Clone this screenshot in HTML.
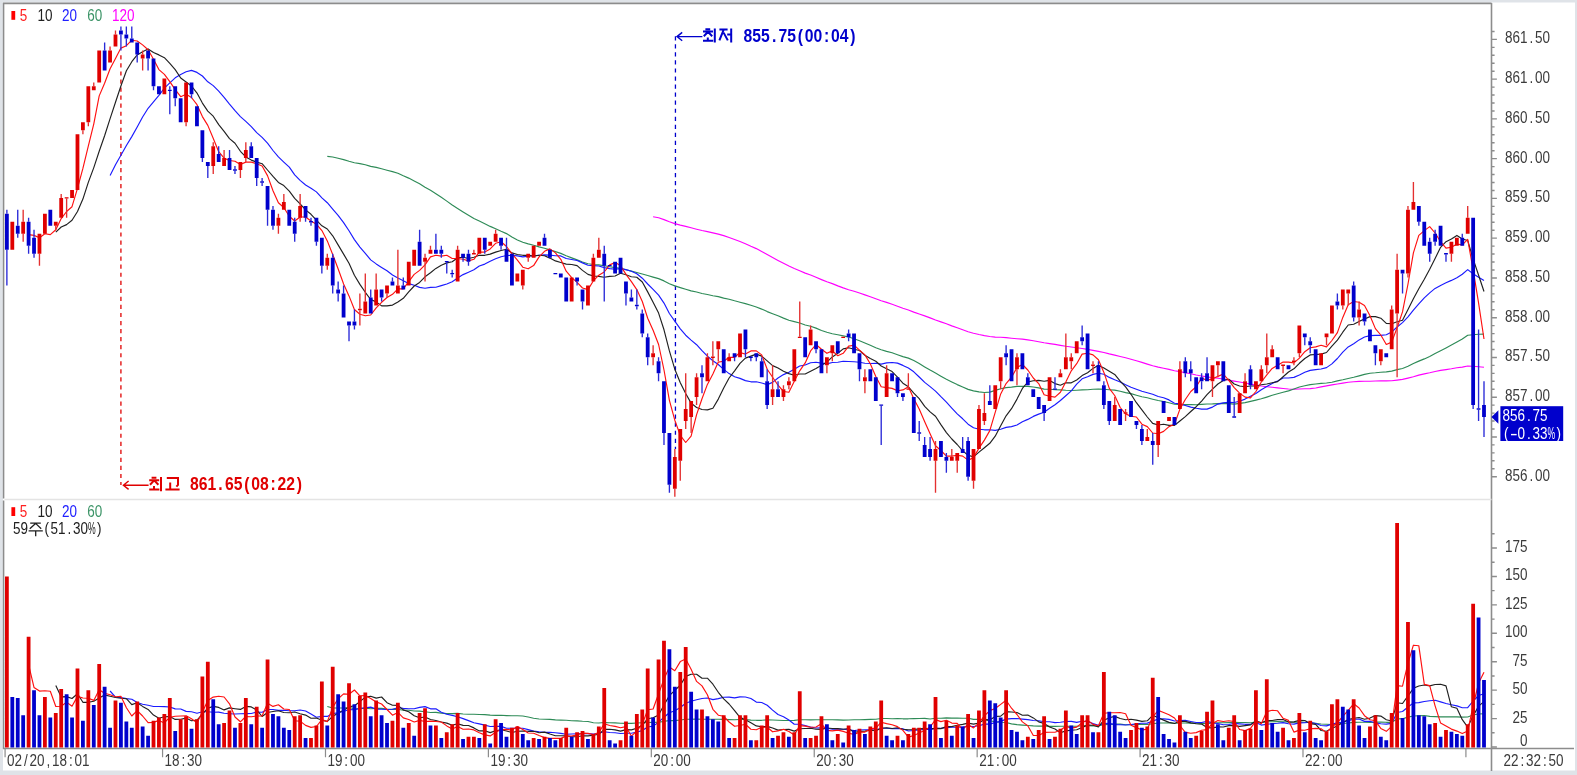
<!DOCTYPE html>
<html><head><meta charset="utf-8"><title>chart</title>
<style>html,body{margin:0;padding:0;background:#dfe3e8;overflow:hidden}svg{display:block;filter:blur(0.5px)}text{font-family:"Liberation Sans",sans-serif}</style></head><body>
<svg width="1577" height="775" viewBox="0 0 1577 775">
<rect x="0" y="0" width="1577" height="775" fill="#dfe3e8"/>
<rect x="3" y="2.5" width="1572" height="768" fill="#ffffff"/>
<g stroke="#8c8c8c" fill="none">
<path d="M3,3.4H1491.5" stroke-width="1.6"/>
<path d="M3.6,3V498.6M3.6,500.4V749" stroke-width="1.5"/>
<path d="M1491.5,3V771" stroke-width="1.6"/>
<path d="M3,748.6H1574" stroke-width="1.5"/>
</g>
<path d="M4.5,499.5H1491.5" stroke="#e4e4e4" stroke-width="1.4" fill="none"/>
<path d="M1491.5,476.70h5.4M1491.5,468.75h3.1M1491.5,460.80h3.1M1491.5,452.85h3.1M1491.5,444.90h3.1M1491.5,436.94h5.4M1491.5,428.99h3.1M1491.5,421.04h3.1M1491.5,413.09h3.1M1491.5,405.14h3.1M1491.5,397.19h5.4M1491.5,389.24h3.1M1491.5,381.29h3.1M1491.5,373.34h3.1M1491.5,365.39h3.1M1491.5,357.44h5.4M1491.5,349.48h3.1M1491.5,341.53h3.1M1491.5,333.58h3.1M1491.5,325.63h3.1M1491.5,317.68h5.4M1491.5,309.73h3.1M1491.5,301.78h3.1M1491.5,293.83h3.1M1491.5,285.88h3.1M1491.5,277.93h5.4M1491.5,269.97h3.1M1491.5,262.02h3.1M1491.5,254.07h3.1M1491.5,246.12h3.1M1491.5,238.17h5.4M1491.5,230.22h3.1M1491.5,222.27h3.1M1491.5,214.32h3.1M1491.5,206.37h3.1M1491.5,198.42h5.4M1491.5,190.46h3.1M1491.5,182.51h3.1M1491.5,174.56h3.1M1491.5,166.61h3.1M1491.5,158.66h5.4M1491.5,150.71h3.1M1491.5,142.76h3.1M1491.5,134.81h3.1M1491.5,126.86h3.1M1491.5,118.91h5.4M1491.5,110.95h3.1M1491.5,103.00h3.1M1491.5,95.05h3.1M1491.5,87.10h3.1M1491.5,79.15h5.4M1491.5,71.20h3.1M1491.5,63.25h3.1M1491.5,55.30h3.1M1491.5,47.35h3.1M1491.5,39.39h5.4M1491.5,31.44h3.1M1491.5,747.00h5.4M1491.5,732.79h3.1M1491.5,718.58h5.4M1491.5,704.36h3.1M1491.5,690.15h5.4M1491.5,675.94h3.1M1491.5,661.73h5.4M1491.5,647.51h3.1M1491.5,633.30h5.4M1491.5,619.09h3.1M1491.5,604.88h5.4M1491.5,590.66h3.1M1491.5,576.45h5.4M1491.5,562.24h3.1M1491.5,548.02h5.4M1491.5,533.81h3.1" stroke="#8c8c8c" stroke-width="1.4" fill="none"/>
<path d="M5.08,749v8.2M162.57,749v8.2M325.49,749v8.2M488.40,749v8.2M651.32,749v8.2M814.24,749v8.2M977.16,749v8.2M1140.08,749v8.2M1302.99,749v8.2M1465.91,749v8.2" stroke="#8c8c8c" stroke-width="1.2" fill="none"/>
<g fill="#3a3a3a" font-size="17.0" text-anchor="middle"><text transform="translate(1508.75,480.70) scale(0.793,1)">8</text><text transform="translate(1516.25,480.70) scale(0.793,1)">5</text><text transform="translate(1523.75,480.70) scale(0.793,1)">6</text><text transform="translate(1531.25,480.70) scale(0.793,1)">.</text><text transform="translate(1538.75,480.70) scale(0.793,1)">0</text><text transform="translate(1546.25,480.70) scale(0.793,1)">0</text></g>
<g fill="#3a3a3a" font-size="17.0" text-anchor="middle"><text transform="translate(1508.75,401.19) scale(0.793,1)">8</text><text transform="translate(1516.25,401.19) scale(0.793,1)">5</text><text transform="translate(1523.75,401.19) scale(0.793,1)">7</text><text transform="translate(1531.25,401.19) scale(0.793,1)">.</text><text transform="translate(1538.75,401.19) scale(0.793,1)">0</text><text transform="translate(1546.25,401.19) scale(0.793,1)">0</text></g>
<g fill="#3a3a3a" font-size="17.0" text-anchor="middle"><text transform="translate(1508.75,361.44) scale(0.793,1)">8</text><text transform="translate(1516.25,361.44) scale(0.793,1)">5</text><text transform="translate(1523.75,361.44) scale(0.793,1)">7</text><text transform="translate(1531.25,361.44) scale(0.793,1)">.</text><text transform="translate(1538.75,361.44) scale(0.793,1)">5</text><text transform="translate(1546.25,361.44) scale(0.793,1)">0</text></g>
<g fill="#3a3a3a" font-size="17.0" text-anchor="middle"><text transform="translate(1508.75,321.68) scale(0.793,1)">8</text><text transform="translate(1516.25,321.68) scale(0.793,1)">5</text><text transform="translate(1523.75,321.68) scale(0.793,1)">8</text><text transform="translate(1531.25,321.68) scale(0.793,1)">.</text><text transform="translate(1538.75,321.68) scale(0.793,1)">0</text><text transform="translate(1546.25,321.68) scale(0.793,1)">0</text></g>
<g fill="#3a3a3a" font-size="17.0" text-anchor="middle"><text transform="translate(1508.75,281.93) scale(0.793,1)">8</text><text transform="translate(1516.25,281.93) scale(0.793,1)">5</text><text transform="translate(1523.75,281.93) scale(0.793,1)">8</text><text transform="translate(1531.25,281.93) scale(0.793,1)">.</text><text transform="translate(1538.75,281.93) scale(0.793,1)">5</text><text transform="translate(1546.25,281.93) scale(0.793,1)">0</text></g>
<g fill="#3a3a3a" font-size="17.0" text-anchor="middle"><text transform="translate(1508.75,242.17) scale(0.793,1)">8</text><text transform="translate(1516.25,242.17) scale(0.793,1)">5</text><text transform="translate(1523.75,242.17) scale(0.793,1)">9</text><text transform="translate(1531.25,242.17) scale(0.793,1)">.</text><text transform="translate(1538.75,242.17) scale(0.793,1)">0</text><text transform="translate(1546.25,242.17) scale(0.793,1)">0</text></g>
<g fill="#3a3a3a" font-size="17.0" text-anchor="middle"><text transform="translate(1508.75,202.42) scale(0.793,1)">8</text><text transform="translate(1516.25,202.42) scale(0.793,1)">5</text><text transform="translate(1523.75,202.42) scale(0.793,1)">9</text><text transform="translate(1531.25,202.42) scale(0.793,1)">.</text><text transform="translate(1538.75,202.42) scale(0.793,1)">5</text><text transform="translate(1546.25,202.42) scale(0.793,1)">0</text></g>
<g fill="#3a3a3a" font-size="17.0" text-anchor="middle"><text transform="translate(1508.75,162.66) scale(0.793,1)">8</text><text transform="translate(1516.25,162.66) scale(0.793,1)">6</text><text transform="translate(1523.75,162.66) scale(0.793,1)">0</text><text transform="translate(1531.25,162.66) scale(0.793,1)">.</text><text transform="translate(1538.75,162.66) scale(0.793,1)">0</text><text transform="translate(1546.25,162.66) scale(0.793,1)">0</text></g>
<g fill="#3a3a3a" font-size="17.0" text-anchor="middle"><text transform="translate(1508.75,122.91) scale(0.793,1)">8</text><text transform="translate(1516.25,122.91) scale(0.793,1)">6</text><text transform="translate(1523.75,122.91) scale(0.793,1)">0</text><text transform="translate(1531.25,122.91) scale(0.793,1)">.</text><text transform="translate(1538.75,122.91) scale(0.793,1)">5</text><text transform="translate(1546.25,122.91) scale(0.793,1)">0</text></g>
<g fill="#3a3a3a" font-size="17.0" text-anchor="middle"><text transform="translate(1508.75,83.15) scale(0.793,1)">8</text><text transform="translate(1516.25,83.15) scale(0.793,1)">6</text><text transform="translate(1523.75,83.15) scale(0.793,1)">1</text><text transform="translate(1531.25,83.15) scale(0.793,1)">.</text><text transform="translate(1538.75,83.15) scale(0.793,1)">0</text><text transform="translate(1546.25,83.15) scale(0.793,1)">0</text></g>
<g fill="#3a3a3a" font-size="17.0" text-anchor="middle"><text transform="translate(1508.75,43.39) scale(0.793,1)">8</text><text transform="translate(1516.25,43.39) scale(0.793,1)">6</text><text transform="translate(1523.75,43.39) scale(0.793,1)">1</text><text transform="translate(1531.25,43.39) scale(0.793,1)">.</text><text transform="translate(1538.75,43.39) scale(0.793,1)">5</text><text transform="translate(1546.25,43.39) scale(0.793,1)">0</text></g>
<g fill="#3a3a3a" font-size="17.0" text-anchor="middle"><text transform="translate(1523.75,746.20) scale(0.793,1)">0</text></g>
<g fill="#3a3a3a" font-size="17.0" text-anchor="middle"><text transform="translate(1516.25,722.58) scale(0.793,1)">2</text><text transform="translate(1523.75,722.58) scale(0.793,1)">5</text></g>
<g fill="#3a3a3a" font-size="17.0" text-anchor="middle"><text transform="translate(1516.25,694.15) scale(0.793,1)">5</text><text transform="translate(1523.75,694.15) scale(0.793,1)">0</text></g>
<g fill="#3a3a3a" font-size="17.0" text-anchor="middle"><text transform="translate(1516.25,665.73) scale(0.793,1)">7</text><text transform="translate(1523.75,665.73) scale(0.793,1)">5</text></g>
<g fill="#3a3a3a" font-size="17.0" text-anchor="middle"><text transform="translate(1508.75,637.30) scale(0.793,1)">1</text><text transform="translate(1516.25,637.30) scale(0.793,1)">0</text><text transform="translate(1523.75,637.30) scale(0.793,1)">0</text></g>
<g fill="#3a3a3a" font-size="17.0" text-anchor="middle"><text transform="translate(1508.75,608.88) scale(0.793,1)">1</text><text transform="translate(1516.25,608.88) scale(0.793,1)">2</text><text transform="translate(1523.75,608.88) scale(0.793,1)">5</text></g>
<g fill="#3a3a3a" font-size="17.0" text-anchor="middle"><text transform="translate(1508.75,580.45) scale(0.793,1)">1</text><text transform="translate(1516.25,580.45) scale(0.793,1)">5</text><text transform="translate(1523.75,580.45) scale(0.793,1)">0</text></g>
<g fill="#3a3a3a" font-size="17.0" text-anchor="middle"><text transform="translate(1508.75,552.02) scale(0.793,1)">1</text><text transform="translate(1516.25,552.02) scale(0.793,1)">7</text><text transform="translate(1523.75,552.02) scale(0.793,1)">5</text></g>
<g fill="#3a3a3a" font-size="17.0" text-anchor="middle"><text transform="translate(10.83,765.60) scale(0.793,1)">0</text><text transform="translate(18.33,765.60) scale(0.793,1)">2</text><text transform="translate(25.83,765.60) scale(0.793,1)">/</text><text transform="translate(33.33,765.60) scale(0.793,1)">2</text><text transform="translate(40.83,765.60) scale(0.793,1)">0</text><text transform="translate(48.33,765.60) scale(0.793,1)">,</text><text transform="translate(55.83,765.60) scale(0.793,1)">1</text><text transform="translate(63.33,765.60) scale(0.793,1)">8</text><text transform="translate(70.83,765.60) scale(0.793,1)">:</text><text transform="translate(78.33,765.60) scale(0.793,1)">0</text><text transform="translate(85.83,765.60) scale(0.793,1)">1</text></g>
<g fill="#3a3a3a" font-size="17.0" text-anchor="middle"><text transform="translate(168.32,765.60) scale(0.793,1)">1</text><text transform="translate(175.82,765.60) scale(0.793,1)">8</text><text transform="translate(183.32,765.60) scale(0.793,1)">:</text><text transform="translate(190.82,765.60) scale(0.793,1)">3</text><text transform="translate(198.32,765.60) scale(0.793,1)">0</text></g>
<g fill="#3a3a3a" font-size="17.0" text-anchor="middle"><text transform="translate(331.24,765.60) scale(0.793,1)">1</text><text transform="translate(338.74,765.60) scale(0.793,1)">9</text><text transform="translate(346.24,765.60) scale(0.793,1)">:</text><text transform="translate(353.74,765.60) scale(0.793,1)">0</text><text transform="translate(361.24,765.60) scale(0.793,1)">0</text></g>
<g fill="#3a3a3a" font-size="17.0" text-anchor="middle"><text transform="translate(494.15,765.60) scale(0.793,1)">1</text><text transform="translate(501.65,765.60) scale(0.793,1)">9</text><text transform="translate(509.15,765.60) scale(0.793,1)">:</text><text transform="translate(516.65,765.60) scale(0.793,1)">3</text><text transform="translate(524.15,765.60) scale(0.793,1)">0</text></g>
<g fill="#3a3a3a" font-size="17.0" text-anchor="middle"><text transform="translate(657.07,765.60) scale(0.793,1)">2</text><text transform="translate(664.57,765.60) scale(0.793,1)">0</text><text transform="translate(672.07,765.60) scale(0.793,1)">:</text><text transform="translate(679.57,765.60) scale(0.793,1)">0</text><text transform="translate(687.07,765.60) scale(0.793,1)">0</text></g>
<g fill="#3a3a3a" font-size="17.0" text-anchor="middle"><text transform="translate(819.99,765.60) scale(0.793,1)">2</text><text transform="translate(827.49,765.60) scale(0.793,1)">0</text><text transform="translate(834.99,765.60) scale(0.793,1)">:</text><text transform="translate(842.49,765.60) scale(0.793,1)">3</text><text transform="translate(849.99,765.60) scale(0.793,1)">0</text></g>
<g fill="#3a3a3a" font-size="17.0" text-anchor="middle"><text transform="translate(982.91,765.60) scale(0.793,1)">2</text><text transform="translate(990.41,765.60) scale(0.793,1)">1</text><text transform="translate(997.91,765.60) scale(0.793,1)">:</text><text transform="translate(1005.41,765.60) scale(0.793,1)">0</text><text transform="translate(1012.91,765.60) scale(0.793,1)">0</text></g>
<g fill="#3a3a3a" font-size="17.0" text-anchor="middle"><text transform="translate(1145.83,765.60) scale(0.793,1)">2</text><text transform="translate(1153.33,765.60) scale(0.793,1)">1</text><text transform="translate(1160.83,765.60) scale(0.793,1)">:</text><text transform="translate(1168.33,765.60) scale(0.793,1)">3</text><text transform="translate(1175.83,765.60) scale(0.793,1)">0</text></g>
<g fill="#3a3a3a" font-size="17.0" text-anchor="middle"><text transform="translate(1308.74,765.60) scale(0.793,1)">2</text><text transform="translate(1316.24,765.60) scale(0.793,1)">2</text><text transform="translate(1323.74,765.60) scale(0.793,1)">:</text><text transform="translate(1331.24,765.60) scale(0.793,1)">0</text><text transform="translate(1338.74,765.60) scale(0.793,1)">0</text></g>
<g fill="#3a3a3a" font-size="17.0" text-anchor="middle"><text transform="translate(1507.25,765.80) scale(0.793,1)">2</text><text transform="translate(1514.75,765.80) scale(0.793,1)">2</text><text transform="translate(1522.25,765.80) scale(0.793,1)">:</text><text transform="translate(1529.75,765.80) scale(0.793,1)">3</text><text transform="translate(1537.25,765.80) scale(0.793,1)">2</text><text transform="translate(1544.75,765.80) scale(0.793,1)">:</text><text transform="translate(1552.25,765.80) scale(0.793,1)">5</text><text transform="translate(1559.75,765.80) scale(0.793,1)">0</text></g>
<path d="M120.92,55.3V485" stroke="#e00000" stroke-width="1.3" stroke-dasharray="4.2 3.85" fill="none"/>
<path d="M675.44,36.2V448.91" stroke="#0000cc" stroke-width="1.3" stroke-dasharray="4.2 3.85" fill="none"/>
<polyline points="653.1,216.8 658.6,217.8 664.0,219.6 669.4,221.7 674.8,223.6 680.3,225.1 685.7,226.4 691.1,227.8 696.6,229.2 702.0,230.5 707.4,231.6 712.9,232.9 718.3,234.1 723.7,235.6 729.1,237.5 734.6,239.5 740.0,241.5 745.4,243.7 750.9,246.3 756.3,248.6 761.7,251.4 767.2,254.5 772.6,257.4 778.0,260.4 783.5,263.3 788.9,266.0 794.3,268.5 799.7,270.8 805.2,273.1 810.6,275.0 816.0,277.3 821.5,279.6 826.9,281.8 832.3,283.6 837.8,285.9 843.2,287.9 848.6,289.7 854.1,291.3 859.5,293.0 864.9,294.9 870.3,296.8 875.8,298.8 881.2,300.7 886.6,302.4 892.1,304.3 897.5,306.3 902.9,308.3 908.4,310.0 913.8,312.1 919.2,314.0 924.7,315.9 930.1,317.9 935.5,320.0 940.9,321.9 946.4,323.8 951.8,325.9 957.2,327.8 962.7,329.8 968.1,331.7 973.5,333.2 979.0,334.5 984.4,335.6 989.8,336.5 995.2,337.1 1000.7,337.3 1006.1,337.6 1011.5,338.2 1017.0,338.7 1022.4,339.1 1027.8,339.9 1033.3,340.7 1038.7,341.8 1044.1,342.8 1049.6,343.6 1055.0,344.4 1060.4,345.4 1065.8,346.3 1071.3,347.0 1076.7,347.7 1082.1,348.5 1087.6,349.4 1093.0,350.4 1098.4,351.4 1103.9,352.5 1109.3,353.9 1114.7,355.1 1120.2,356.5 1125.6,357.8 1131.0,359.3 1136.4,360.8 1141.9,362.4 1147.3,364.1 1152.7,365.8 1158.2,367.1 1163.6,368.2 1169.0,369.4 1174.5,370.7 1179.9,371.6 1185.3,372.7 1190.8,373.8 1196.2,375.0 1201.6,376.0 1207.0,376.9 1212.5,377.7 1217.9,378.2 1223.3,379.0 1228.8,380.1 1234.2,381.1 1239.6,382.0 1245.1,383.0 1250.5,384.1 1255.9,385.1 1261.3,386.0 1266.8,386.7 1272.2,387.3 1277.6,387.9 1283.1,388.5 1288.5,389.0 1293.9,389.2 1299.4,389.0 1304.8,388.8 1310.2,388.6 1315.7,388.0 1321.1,386.9 1326.5,385.9 1331.9,384.9 1337.4,384.0 1342.8,383.1 1348.2,382.3 1353.7,381.8 1359.1,381.4 1364.5,381.2 1370.0,381.2 1375.4,381.0 1380.8,380.9 1386.3,380.9 1391.7,380.7 1397.1,380.1 1402.5,379.4 1408.0,378.1 1413.4,376.7 1418.8,375.1 1424.3,373.9 1429.7,372.8 1435.1,371.5 1440.6,370.4 1446.0,369.6 1451.4,368.8 1456.9,367.8 1462.3,367.1 1467.7,366.0 1473.1,366.3 1478.6,366.7 1484.0,367.3" fill="none" stroke="#ff00ff" stroke-width="1.15" stroke-linejoin="round"/>
<polyline points="327.3,156.4 332.7,157.0 338.1,158.2 343.6,159.6 349.0,161.3 354.4,162.7 359.9,163.6 365.3,164.7 370.7,166.4 376.2,167.4 381.6,168.7 387.0,170.2 392.5,171.6 397.9,173.2 403.3,175.8 408.7,178.1 414.2,180.9 419.6,183.8 425.0,187.3 430.5,190.3 435.9,193.7 441.3,197.3 446.8,201.1 452.2,205.0 457.6,208.5 463.1,211.9 468.5,215.3 473.9,218.6 479.3,221.1 484.8,223.7 490.2,226.4 495.6,228.8 501.1,231.3 506.5,233.6 511.9,237.0 517.4,240.0 522.8,242.3 528.2,243.9 533.6,245.3 539.1,246.9 544.5,248.3 549.9,249.9 555.4,251.6 560.8,253.4 566.2,255.8 571.7,257.9 577.1,259.9 582.5,262.0 588.0,263.7 593.4,264.5 598.8,264.9 604.2,265.7 609.7,266.8 615.1,267.6 620.5,268.2 626.0,269.7 631.4,271.1 636.8,272.5 642.3,274.0 647.7,275.5 653.1,277.1 658.6,278.6 664.0,280.9 669.4,283.7 674.8,285.9 680.3,287.6 685.7,289.3 691.1,290.9 696.6,292.0 702.0,293.5 707.4,294.5 712.9,295.7 718.3,296.6 723.7,298.1 729.1,299.2 734.6,300.8 740.0,302.2 745.4,303.6 750.9,305.2 756.3,307.0 761.7,309.1 767.2,311.6 772.6,313.7 778.0,315.8 783.5,318.1 788.9,320.2 794.3,321.6 799.7,323.0 805.2,325.0 810.6,326.3 816.0,328.1 821.5,330.5 826.9,332.3 832.3,333.7 837.8,334.8 843.2,335.9 848.6,337.0 854.1,338.7 859.5,340.7 864.9,343.0 870.3,345.3 875.8,347.7 881.2,349.8 886.6,351.4 892.1,352.8 897.5,354.7 902.9,356.6 908.4,358.1 913.8,360.5 919.2,363.5 924.7,366.9 930.1,370.1 935.5,373.1 940.9,376.2 946.4,379.3 951.8,382.0 957.2,384.6 962.7,387.0 968.1,389.4 973.5,390.9 979.0,391.9 984.4,392.5 989.8,392.1 995.2,390.4 1000.7,388.8 1006.1,387.6 1011.5,387.1 1017.0,386.4 1022.4,386.2 1027.8,386.4 1033.3,387.0 1038.7,387.9 1044.1,389.1 1049.6,389.2 1055.0,389.7 1060.4,389.9 1065.8,390.3 1071.3,390.5 1076.7,390.2 1082.1,389.9 1087.6,389.8 1093.0,389.2 1098.4,389.0 1103.9,389.2 1109.3,389.7 1114.7,390.1 1120.2,391.3 1125.6,392.6 1131.0,393.6 1136.4,395.2 1141.9,396.7 1147.3,397.8 1152.7,399.2 1158.2,400.5 1163.6,401.5 1169.0,402.8 1174.5,404.3 1179.9,404.6 1185.3,404.6 1190.8,404.6 1196.2,404.8 1201.6,404.4 1207.0,404.0 1212.5,403.9 1217.9,403.6 1223.3,403.4 1228.8,403.6 1234.2,404.1 1239.6,403.4 1245.1,402.6 1250.5,401.4 1255.9,400.1 1261.3,398.8 1266.8,397.1 1272.2,395.3 1277.6,393.8 1283.1,392.3 1288.5,390.9 1293.9,389.0 1299.4,387.0 1304.8,385.8 1310.2,384.6 1315.7,384.0 1321.1,383.4 1326.5,383.0 1331.9,382.2 1337.4,380.9 1342.8,379.8 1348.2,378.5 1353.7,377.3 1359.1,375.9 1364.5,374.4 1370.0,373.2 1375.4,372.8 1380.8,372.2 1386.3,371.9 1391.7,371.1 1397.1,369.6 1402.5,368.5 1408.0,366.3 1413.4,363.5 1418.8,361.1 1424.3,358.9 1429.7,356.4 1435.1,353.4 1440.6,350.7 1446.0,347.9 1451.4,345.0 1456.9,342.0 1462.3,339.0 1467.7,335.3 1473.1,334.8 1478.6,334.2 1484.0,334.1" fill="none" stroke="#2e8b57" stroke-width="1.15" stroke-linejoin="round"/>
<polyline points="110.1,175.4 115.5,164.7 120.9,155.3 126.4,145.5 131.8,136.6 137.2,127.0 142.6,117.0 148.1,108.3 153.5,101.9 158.9,95.3 164.4,88.2 169.8,82.8 175.2,77.8 180.7,74.4 186.1,71.8 191.5,70.4 197.0,72.4 202.4,76.0 207.8,81.8 213.2,85.6 218.7,91.1 224.1,97.3 229.5,104.1 235.0,110.7 240.4,116.6 245.8,121.4 251.3,126.6 256.7,132.6 262.1,137.4 267.5,143.1 273.0,150.5 278.4,156.9 283.8,162.1 289.3,167.2 294.7,174.8 300.1,180.4 305.6,185.0 311.0,188.2 316.4,191.9 321.9,197.9 327.3,202.7 332.7,209.1 338.1,215.3 343.6,222.6 349.0,230.8 354.4,239.6 359.9,247.1 365.3,253.3 370.7,259.9 376.2,263.9 381.6,267.4 387.0,270.8 392.5,275.0 397.9,278.0 403.3,280.8 408.7,283.6 414.2,285.2 419.6,287.4 425.0,288.2 430.5,287.4 435.9,287.2 441.3,285.6 446.8,284.0 452.2,281.8 457.6,278.0 463.1,274.6 468.5,272.2 473.9,269.8 479.3,266.0 484.8,264.1 490.2,261.3 495.6,258.7 501.1,256.7 506.5,255.5 511.9,255.3 517.4,255.9 522.8,256.9 528.2,256.3 533.6,255.7 539.1,255.3 544.5,254.9 549.9,255.1 555.4,255.7 560.8,255.9 566.2,258.5 571.7,259.5 577.1,260.5 582.5,262.9 588.0,265.2 593.4,265.6 598.8,266.0 604.2,267.6 609.7,268.6 615.1,269.2 620.5,268.6 626.0,269.6 631.4,271.2 636.8,273.8 642.3,278.2 647.7,284.0 653.1,289.4 658.6,295.1 664.0,303.1 669.4,313.5 674.8,321.2 680.3,328.8 685.7,335.2 691.1,340.1 696.6,344.7 702.0,350.7 707.4,356.1 712.9,360.7 718.3,364.5 723.7,369.4 729.1,373.6 734.6,376.8 740.0,378.4 745.4,380.6 750.9,381.8 756.3,381.8 761.7,383.0 767.2,384.6 772.6,382.4 778.0,378.0 783.5,374.6 788.9,372.2 794.3,369.2 799.7,366.0 805.2,365.0 810.6,362.7 816.0,362.3 821.5,363.1 826.9,363.9 832.3,362.5 837.8,362.3 843.2,361.3 848.6,361.5 854.1,361.7 859.5,362.3 864.9,363.3 870.3,363.5 875.8,363.3 881.2,364.1 886.6,362.9 892.1,362.5 897.5,363.1 902.9,365.4 908.4,368.0 913.8,371.8 919.2,377.0 924.7,382.4 930.1,386.6 935.5,391.1 940.9,396.7 946.4,402.1 951.8,408.1 957.2,413.9 962.7,418.8 968.1,424.2 973.5,427.8 979.0,429.2 984.4,429.8 989.8,429.8 995.2,430.4 1000.7,429.2 1006.1,427.4 1011.5,426.6 1017.0,425.0 1022.4,421.8 1027.8,419.4 1033.3,416.4 1038.7,414.1 1044.1,412.3 1049.6,408.3 1055.0,404.7 1060.4,400.5 1065.8,395.7 1071.3,390.9 1076.7,384.2 1082.1,378.8 1087.6,376.8 1093.0,374.4 1098.4,373.2 1103.9,374.2 1109.3,377.4 1114.7,379.8 1120.2,382.0 1125.6,384.8 1131.0,387.2 1136.4,389.2 1141.9,391.3 1147.3,392.7 1152.7,394.3 1158.2,396.5 1163.6,397.7 1169.0,399.9 1174.5,403.3 1179.9,403.9 1185.3,405.5 1190.8,407.1 1196.2,408.3 1201.6,409.1 1207.0,409.1 1212.5,407.1 1217.9,404.1 1223.3,402.9 1228.8,402.3 1234.2,402.5 1239.6,401.3 1245.1,399.1 1250.5,396.3 1255.9,393.5 1261.3,389.7 1266.8,386.6 1272.2,383.4 1277.6,381.0 1283.1,378.0 1288.5,378.0 1293.9,377.4 1299.4,375.0 1304.8,372.2 1310.2,370.4 1315.7,369.6 1321.1,369.0 1326.5,367.6 1331.9,363.9 1337.4,358.5 1342.8,352.1 1348.2,346.9 1353.7,343.7 1359.1,339.9 1364.5,337.0 1370.0,335.6 1375.4,335.4 1380.8,335.4 1386.3,334.8 1391.7,332.0 1397.1,327.0 1402.5,322.6 1408.0,316.8 1413.4,310.1 1418.8,303.9 1424.3,297.9 1429.7,292.9 1435.1,288.4 1440.6,285.4 1446.0,282.8 1451.4,280.4 1456.9,277.8 1462.3,274.2 1467.7,269.6 1473.1,273.8 1478.6,277.2 1484.0,280.4" fill="none" stroke="#1a1aff" stroke-width="1.15" stroke-linejoin="round"/>
<polyline points="55.8,232.2 61.2,227.0 66.6,224.6 72.0,220.2 77.5,211.5 82.9,199.1 88.3,182.4 93.8,167.6 99.2,151.3 104.6,135.8 110.1,118.6 115.5,102.3 120.9,86.0 126.4,70.8 131.8,61.7 137.2,54.9 142.6,51.7 148.1,48.9 153.5,52.5 158.9,54.9 164.4,57.7 169.8,63.3 175.2,69.6 180.7,78.0 186.1,82.0 191.5,86.0 197.0,93.1 202.4,103.1 207.8,111.1 213.2,116.2 218.7,124.6 224.1,131.4 229.5,138.6 235.0,143.3 240.4,151.3 245.8,156.9 251.3,160.1 256.7,162.1 262.1,163.7 267.5,170.0 273.0,176.4 278.4,182.4 283.8,185.6 289.3,191.1 294.7,198.3 300.1,203.9 305.6,209.9 311.0,214.3 316.4,220.2 321.9,225.8 327.3,229.0 332.7,235.8 338.1,244.9 343.6,254.1 349.0,263.3 354.4,275.2 359.9,284.4 365.3,292.3 370.7,299.5 376.2,301.9 381.6,305.9 387.0,305.9 392.5,305.1 397.9,301.9 403.3,298.3 408.7,291.9 414.2,286.0 419.6,282.4 425.0,276.8 430.5,272.8 435.9,268.4 441.3,265.2 446.8,262.9 452.2,261.7 457.6,257.7 463.1,257.3 468.5,258.5 473.9,257.3 479.3,255.3 484.8,255.3 490.2,254.1 495.6,252.1 501.1,250.5 506.5,249.3 511.9,252.9 517.4,254.5 522.8,255.3 528.2,255.3 533.6,256.1 539.1,255.3 544.5,255.7 549.9,258.1 555.4,260.9 560.8,262.5 566.2,264.1 571.7,264.5 577.1,265.6 582.5,270.4 588.0,274.4 593.4,276.0 598.8,276.4 604.2,277.2 609.7,276.4 615.1,276.0 620.5,273.2 626.0,274.8 631.4,276.8 636.8,277.2 642.3,282.0 647.7,291.9 653.1,302.3 658.6,313.1 664.0,329.8 669.4,350.9 674.8,369.2 680.3,382.8 685.7,393.5 691.1,403.1 696.6,407.5 702.0,409.5 707.4,409.9 712.9,408.3 718.3,399.1 723.7,388.0 729.1,378.0 734.6,370.8 740.0,363.3 745.4,358.1 750.9,356.1 756.3,354.1 761.7,356.1 767.2,360.9 772.6,365.6 778.0,368.0 783.5,371.2 788.9,373.6 794.3,375.2 799.7,374.0 805.2,374.0 810.6,371.2 816.0,368.4 821.5,365.2 826.9,362.1 832.3,356.9 837.8,353.3 843.2,348.9 848.6,347.7 854.1,349.3 859.5,350.5 864.9,355.3 870.3,358.5 875.8,361.3 881.2,366.0 886.6,368.8 892.1,371.6 897.5,377.2 902.9,383.2 908.4,386.8 913.8,393.1 919.2,398.7 924.7,406.3 930.1,411.9 935.5,416.2 940.9,424.6 946.4,432.6 951.8,439.0 957.2,444.5 962.7,450.9 968.1,455.3 973.5,456.9 979.0,452.1 984.4,447.7 989.8,443.3 995.2,436.2 1000.7,425.8 1006.1,415.8 1011.5,408.7 1017.0,399.1 1022.4,388.4 1027.8,382.0 1033.3,380.8 1038.7,380.4 1044.1,381.2 1049.6,380.4 1055.0,383.6 1060.4,385.2 1065.8,382.8 1071.3,382.8 1076.7,380.0 1082.1,375.6 1087.6,372.8 1093.0,368.4 1098.4,365.2 1103.9,368.0 1109.3,371.2 1114.7,374.4 1120.2,381.2 1125.6,386.8 1131.0,394.3 1136.4,402.7 1141.9,409.9 1147.3,417.0 1152.7,423.4 1158.2,425.0 1163.6,424.2 1169.0,425.4 1174.5,425.4 1179.9,421.0 1185.3,416.6 1190.8,411.5 1196.2,406.7 1201.6,401.1 1207.0,394.7 1212.5,389.2 1217.9,384.0 1223.3,380.4 1228.8,379.2 1234.2,384.0 1239.6,386.0 1245.1,386.8 1250.5,386.0 1255.9,386.0 1261.3,384.8 1266.8,384.0 1272.2,382.8 1277.6,381.6 1283.1,376.8 1288.5,372.0 1293.9,368.8 1299.4,363.3 1304.8,358.5 1310.2,354.9 1315.7,354.5 1321.1,354.1 1326.5,352.5 1331.9,346.1 1337.4,340.1 1342.8,332.2 1348.2,325.0 1353.7,324.2 1359.1,321.4 1364.5,319.0 1370.0,316.6 1375.4,316.6 1380.8,318.2 1386.3,323.4 1391.7,323.8 1397.1,321.8 1402.5,320.2 1408.0,309.5 1413.4,298.7 1418.8,288.8 1424.3,279.2 1429.7,269.2 1435.1,258.5 1440.6,247.3 1446.0,241.7 1451.4,239.0 1456.9,235.4 1462.3,239.0 1467.7,240.5 1473.1,258.9 1478.6,275.2 1484.0,291.5" fill="none" stroke="#202020" stroke-width="1.15" stroke-linejoin="round"/>
<polyline points="28.6,234.6 34.0,235.4 39.5,237.8 44.9,233.8 50.3,234.6 55.8,229.8 61.2,218.6 66.6,211.5 72.0,206.7 77.5,188.4 82.9,168.4 88.3,146.1 93.8,123.8 99.2,95.9 104.6,83.2 110.1,68.8 115.5,58.5 120.9,48.1 126.4,45.7 131.8,40.2 137.2,41.0 142.6,44.9 148.1,49.7 153.5,59.3 158.9,69.6 164.4,74.4 169.8,81.6 175.2,89.6 180.7,96.7 186.1,94.3 191.5,97.5 197.0,104.7 202.4,116.6 207.8,125.4 213.2,138.2 218.7,151.7 224.1,158.1 229.5,160.5 235.0,161.3 240.4,164.5 245.8,162.1 251.3,162.1 256.7,163.7 262.1,166.0 267.5,175.6 273.0,190.7 278.4,202.7 283.8,207.5 289.3,216.2 294.7,221.0 300.1,217.0 305.6,217.0 311.0,221.0 316.4,224.2 321.9,230.6 327.3,240.9 332.7,254.5 338.1,268.8 343.6,284.0 349.0,295.9 354.4,309.5 359.9,314.3 365.3,315.8 370.7,315.0 376.2,307.9 381.6,302.3 387.0,297.5 392.5,294.3 397.9,288.8 403.3,288.8 408.7,281.6 414.2,274.4 419.6,270.4 425.0,264.9 430.5,256.9 435.9,255.3 441.3,256.1 446.8,255.3 452.2,258.5 457.6,258.5 463.1,259.3 468.5,260.9 473.9,259.3 479.3,252.1 484.8,252.1 490.2,248.9 495.6,243.3 501.1,241.7 506.5,246.5 511.9,253.7 517.4,260.1 522.8,267.2 528.2,268.8 533.6,265.6 539.1,256.9 544.5,251.3 549.9,248.9 555.4,252.9 560.8,259.3 566.2,271.2 571.7,277.6 577.1,282.4 582.5,288.0 588.0,289.6 593.4,280.8 598.8,275.2 604.2,272.0 609.7,264.9 615.1,262.5 620.5,265.6 626.0,274.4 631.4,281.6 636.8,289.6 642.3,301.5 647.7,318.2 653.1,330.2 658.6,344.5 664.0,370.0 669.4,400.3 674.8,420.2 680.3,435.4 685.7,442.5 691.1,436.2 696.6,414.6 702.0,398.7 707.4,384.4 712.9,374.0 718.3,362.1 723.7,361.3 729.1,357.3 734.6,357.3 740.0,352.5 745.4,354.1 750.9,350.9 756.3,350.9 761.7,354.9 767.2,369.2 772.6,377.2 778.0,385.2 783.5,391.5 788.9,392.3 794.3,381.2 799.7,370.8 805.2,362.9 810.6,350.9 816.0,344.5 821.5,349.3 826.9,353.3 832.3,350.9 837.8,355.7 843.2,353.3 848.6,346.1 854.1,345.3 859.5,350.1 864.9,354.9 870.3,363.7 875.8,376.4 881.2,386.8 886.6,387.6 892.1,388.4 897.5,390.7 902.9,389.9 908.4,386.8 913.8,398.7 919.2,409.1 924.7,421.8 930.1,433.8 935.5,445.7 940.9,450.5 946.4,456.1 951.8,456.1 957.2,455.3 962.7,456.1 968.1,460.1 973.5,457.7 979.0,448.1 984.4,440.1 989.8,430.6 995.2,412.3 1000.7,393.9 1006.1,383.6 1011.5,377.2 1017.0,367.6 1022.4,364.5 1027.8,370.0 1033.3,378.0 1038.7,383.6 1044.1,394.7 1049.6,396.3 1055.0,397.1 1060.4,392.3 1065.8,382.0 1071.3,370.8 1076.7,363.7 1082.1,354.1 1087.6,353.3 1093.0,354.9 1098.4,359.7 1103.9,372.4 1109.3,388.4 1114.7,395.5 1120.2,407.5 1125.6,413.9 1131.0,416.2 1136.4,417.0 1141.9,424.2 1147.3,426.6 1152.7,433.0 1158.2,433.8 1163.6,431.4 1169.0,426.6 1174.5,424.2 1179.9,409.1 1185.3,399.5 1190.8,391.5 1196.2,386.8 1201.6,378.0 1207.0,380.4 1212.5,378.8 1217.9,376.4 1223.3,374.0 1228.8,380.4 1234.2,387.6 1239.6,393.1 1245.1,397.1 1250.5,397.9 1255.9,391.5 1261.3,382.0 1266.8,374.8 1272.2,368.4 1277.6,365.2 1283.1,362.1 1288.5,362.1 1293.9,362.9 1299.4,358.1 1304.8,351.7 1310.2,347.7 1315.7,346.9 1321.1,345.3 1326.5,346.9 1331.9,340.5 1337.4,332.6 1342.8,317.4 1348.2,304.7 1353.7,301.5 1359.1,302.3 1364.5,305.5 1370.0,315.8 1375.4,328.6 1380.8,335.0 1386.3,344.5 1391.7,342.1 1397.1,327.8 1402.5,311.9 1408.0,284.0 1413.4,252.9 1418.8,235.4 1424.3,230.6 1429.7,226.6 1435.1,233.0 1440.6,241.7 1446.0,248.1 1451.4,247.3 1456.9,244.1 1462.3,244.9 1467.7,239.4 1473.1,269.6 1478.6,303.1 1484.0,339.0" fill="none" stroke="#ff1010" stroke-width="1.15" stroke-linejoin="round"/>
<path d="M6.88,209.87V213.86M6.88,249.71V285.57M17.74,209.87V225.81M17.74,233.78V237.76M28.60,217.84V221.82M28.60,245.73V253.70M34.03,229.79V237.76M34.03,253.70V257.68M104.63,42.54V50.51M120.92,26.61V30.59M120.92,34.58V50.51M126.35,26.61V34.58M126.35,38.56V46.53M131.78,26.61V38.56M137.21,54.50V62.46M148.08,58.48V70.43M153.51,86.37V90.35M169.80,86.37V89.65M169.80,91.05V114.26M175.23,98.32V106.29M191.52,94.34V98.32M202.38,158.08V162.06M207.81,166.05V178.00M218.67,146.13V154.10M229.53,150.11V158.08M234.97,166.05V169.33M234.97,170.73V174.02M251.26,142.14V146.13M256.69,178.00V185.97M262.12,178.00V181.28M262.12,182.68V185.97M267.55,209.87V225.81M272.98,205.89V209.87M272.98,225.81V229.79M294.70,217.84V221.82M294.70,233.78V241.74M305.56,217.84V221.82M310.99,217.84V221.12M310.99,222.52V225.81M316.42,241.74V245.73M321.85,265.65V273.62M332.72,253.70V257.68M332.72,285.57V293.54M338.15,281.58V289.55M338.15,293.54V301.50M343.58,285.57V293.54M349.01,325.41V341.34M354.44,309.47V321.42M354.44,325.41V329.39M370.73,289.55V297.52M381.59,297.52V301.50M392.45,277.60V281.58M403.31,277.60V285.57M419.61,229.79V241.74M435.90,233.78V249.71M441.33,245.73V249.71M441.33,253.70V257.68M446.76,262.36V273.62M452.19,269.63V272.92M452.19,274.32V277.60M463.05,257.68V261.66M468.48,249.71V253.70M468.48,261.66V265.65M484.77,249.71V253.70M501.06,245.73V249.71M506.50,237.76V249.71M544.51,233.78V237.76M577.09,281.58V285.57M582.52,301.50V309.47M604.25,245.73V253.70M604.25,265.65V301.50M625.97,293.54V305.49M631.40,289.55V297.52M636.83,289.55V304.79M636.83,306.19V309.47M642.26,309.47V313.46M642.26,333.38V337.36M647.69,333.38V337.36M647.69,357.28V365.25M658.55,357.28V361.26M658.55,373.22V381.18M663.98,432.98V444.93M669.41,484.77V492.74M702.00,365.25V373.22M702.00,377.20V393.14M734.58,357.28V361.26M745.44,349.31V357.28M750.87,357.98V361.26M756.30,357.28V361.26M761.73,357.28V361.26M767.16,369.23V381.18M767.16,405.09V409.07M778.03,381.18V389.15M816.04,349.31V353.30M848.62,329.39V333.38M848.62,337.36V341.34M859.48,369.23V381.18M881.21,405.79V444.93M897.50,393.14V397.12M902.93,397.12V401.10M919.22,421.02V432.28M919.22,433.68V440.94M924.65,436.96V444.93M930.08,436.96V448.91M930.08,456.88V460.86M946.37,452.90V456.88M946.37,460.86V472.82M962.67,436.96V448.91M968.10,436.96V440.94M968.10,476.80V480.78M989.82,385.17V401.10M1006.11,345.33V353.30M1006.11,357.28V365.25M1027.83,373.22V377.20M1044.12,413.06V421.02M1054.99,377.20V388.45M1082.14,325.41V337.36M1082.14,341.34V345.33M1098.43,361.26V365.25M1103.86,381.18V385.17M1103.86,405.09V409.07M1109.29,421.02V425.01M1136.44,425.01V428.99M1141.88,425.01V428.99M1141.88,440.94V444.93M1152.74,432.98V440.94M1152.74,444.93V464.85M1185.32,357.28V361.26M1185.32,373.22V377.20M1190.75,361.26V369.23M1190.75,373.22V381.18M1201.61,373.22V377.20M1201.61,381.18V389.15M1207.04,357.28V373.22M1234.20,397.12V416.34M1250.49,365.25V369.23M1250.49,385.17V389.15M1304.79,337.36V345.33M1310.22,337.36V341.34M1310.22,345.33V353.30M1337.38,293.54V301.50M1337.38,305.49V309.47M1353.67,281.58V285.57M1353.67,317.44V321.42M1364.53,321.42V325.41M1375.39,353.30V365.25M1402.54,273.62V293.54M1418.84,221.82V225.81M1429.70,237.76V241.74M1429.70,253.70V261.66M1435.13,229.79V233.78M1435.13,241.74V245.73M1445.99,254.40V261.66M1462.28,233.78V237.76M1473.14,405.09V409.07M1478.57,329.39V408.37M1478.57,409.77V421.02M1484.00,381.18V405.09M1484.00,417.04V436.96" stroke="#2a2ad8" stroke-width="1.35" fill="none"/>
<path d="M23.17,209.87V221.82M23.17,233.78V241.74M39.46,253.70V265.65M55.76,225.81V229.79M61.19,193.94V197.92M66.62,198.62V217.84M82.91,130.19V134.18M88.34,122.22V126.21M93.77,82.38V86.37M110.06,46.53V50.51M115.49,30.59V34.58M142.65,50.51V54.50M142.65,58.48V70.43M186.09,122.22V126.21M213.24,142.14V146.13M213.24,166.05V174.02M224.10,150.11V158.08M240.40,170.03V178.00M245.83,142.14V150.11M245.83,158.08V162.06M278.41,213.86V217.84M278.41,225.81V233.78M283.84,193.94V201.90M300.13,193.94V205.89M300.13,217.84V221.82M327.29,253.70V257.68M327.29,265.65V269.63M359.87,293.54V308.77M359.87,310.17V325.41M365.30,273.62V301.50M376.16,273.62V289.55M387.02,293.54V297.52M397.88,249.71V285.57M425.04,253.70V257.68M425.04,261.66V281.58M430.47,245.73V249.71M457.62,245.73V249.71M473.91,249.71V253.00M495.63,229.79V233.78M522.79,285.57V289.55M528.22,257.68V261.66M593.38,253.70V257.68M598.82,237.76V249.71M653.12,345.33V353.30M653.12,357.28V365.25M674.84,448.91V456.88M674.84,488.75V496.72M680.27,460.86V480.78M685.71,373.22V409.07M685.71,421.02V428.99M691.14,417.04V432.98M696.57,373.22V377.20M696.57,397.12V405.09M707.43,353.30V357.28M712.86,341.34V356.58M712.86,357.98V365.25M718.29,349.31V361.26M729.15,353.30V357.28M772.59,365.25V389.15M772.59,397.12V405.09M783.46,385.17V389.15M783.46,397.12V401.10M788.89,377.20V381.18M788.89,385.17V389.15M799.75,301.50V336.66M810.61,325.41V329.39M826.90,365.25V373.22M832.33,353.30V361.26M864.91,369.23V377.20M864.91,381.18V393.14M886.64,365.25V373.22M908.36,373.22V388.45M935.51,440.94V448.91M935.51,460.86V492.74M951.80,448.91V456.88M957.24,460.86V472.82M973.53,480.78V488.75M978.96,405.09V409.07M984.39,393.14V413.06M984.39,421.02V425.01M1000.68,381.18V389.15M1016.97,353.30V357.28M1016.97,369.23V385.17M1060.42,369.23V373.22M1065.85,333.38V357.28M1071.28,353.30V357.28M1071.28,361.26V369.23M1093.00,361.26V364.55M1093.00,365.95V373.22M1114.72,397.12V405.09M1125.58,409.07V412.36M1125.58,413.76V421.02M1147.31,428.99V436.96M1158.17,444.93V456.88M1179.89,361.26V369.23M1212.47,381.18V397.12M1217.90,365.25V377.20M1245.06,373.22V381.18M1261.35,365.25V369.23M1266.78,333.38V357.28M1266.78,365.25V373.22M1272.21,345.33V349.31M1283.07,365.95V373.22M1293.93,357.28V360.56M1293.93,361.96V365.25M1299.36,353.30V357.28M1326.52,337.36V345.33M1342.81,305.49V309.47M1348.24,293.54V305.49M1359.10,301.50V309.47M1359.10,317.44V325.41M1380.82,361.26V365.25M1391.68,305.49V309.47M1397.11,253.70V269.63M1397.11,313.46V377.20M1407.97,205.89V209.87M1407.97,273.62V277.60M1413.41,181.98V201.90M1451.42,253.70V261.66M1467.71,205.89V217.84" stroke="#e43030" stroke-width="1.35" fill="none"/>
<path d="M4.98,213.86h3.8V249.71h-3.8zM15.84,225.81h3.8V233.78h-3.8zM26.70,221.82h3.8V245.73h-3.8zM32.13,237.76h3.8V253.70h-3.8zM48.42,209.87h3.8V225.81h-3.8zM102.73,50.51h3.8V70.43h-3.8zM119.02,30.59h3.8V34.58h-3.8zM124.45,34.58h3.8V38.56h-3.8zM129.88,38.56h3.8V42.54h-3.8zM135.31,42.54h3.8V54.50h-3.8zM146.18,50.51h3.8V58.48h-3.8zM151.61,58.48h3.8V86.37h-3.8zM157.04,86.37h3.8V94.34h-3.8zM167.90,89.65h3.8V91.05h-3.8zM173.33,86.37h3.8V98.32h-3.8zM178.76,98.32h3.8V122.22h-3.8zM189.62,82.38h3.8V94.34h-3.8zM195.05,106.29h3.8V126.21h-3.8zM200.48,130.19h3.8V158.08h-3.8zM205.91,162.06h3.8V166.05h-3.8zM216.77,154.10h3.8V162.06h-3.8zM227.63,158.08h3.8V170.03h-3.8zM233.07,169.33h3.8V170.73h-3.8zM249.36,146.13h3.8V158.08h-3.8zM254.79,158.08h3.8V178.00h-3.8zM260.22,181.28h3.8V182.68h-3.8zM265.65,185.97h3.8V209.87h-3.8zM271.08,209.87h3.8V225.81h-3.8zM287.37,209.87h3.8V225.81h-3.8zM292.80,221.82h3.8V233.78h-3.8zM303.66,205.89h3.8V217.84h-3.8zM309.09,221.12h3.8V222.52h-3.8zM314.52,217.84h3.8V241.74h-3.8zM319.95,237.76h3.8V265.65h-3.8zM330.82,257.68h3.8V285.57h-3.8zM336.25,289.55h3.8V293.54h-3.8zM341.68,293.54h3.8V317.44h-3.8zM347.11,321.42h3.8V325.41h-3.8zM352.54,321.42h3.8V325.41h-3.8zM368.83,297.52h3.8V313.46h-3.8zM379.69,289.55h3.8V297.52h-3.8zM390.55,281.58h3.8V285.57h-3.8zM401.41,285.57h3.8V289.55h-3.8zM417.71,241.74h3.8V265.65h-3.8zM434.00,249.71h3.8V253.70h-3.8zM439.43,249.71h3.8V253.70h-3.8zM444.86,260.96h3.8V262.36h-3.8zM450.29,272.92h3.8V274.32h-3.8zM461.15,253.70h3.8V257.68h-3.8zM466.58,253.70h3.8V261.66h-3.8zM482.87,237.76h3.8V249.71h-3.8zM499.16,237.76h3.8V245.73h-3.8zM504.60,249.71h3.8V261.66h-3.8zM510.03,253.70h3.8V285.57h-3.8zM542.61,237.76h3.8V245.73h-3.8zM548.04,249.71h3.8V257.68h-3.8zM553.47,272.92h3.8V274.32h-3.8zM558.90,273.62h3.8V277.60h-3.8zM564.33,277.60h3.8V301.50h-3.8zM575.19,277.60h3.8V281.58h-3.8zM580.62,289.55h3.8V301.50h-3.8zM602.35,253.70h3.8V265.65h-3.8zM607.78,264.95h3.8V266.35h-3.8zM613.21,261.66h3.8V273.62h-3.8zM618.64,257.68h3.8V273.62h-3.8zM624.07,281.58h3.8V293.54h-3.8zM629.50,297.52h3.8V301.50h-3.8zM634.93,304.79h3.8V306.19h-3.8zM640.36,313.46h3.8V333.38h-3.8zM645.79,337.36h3.8V357.28h-3.8zM656.65,361.26h3.8V373.22h-3.8zM662.08,381.18h3.8V432.98h-3.8zM667.51,432.98h3.8V484.77h-3.8zM700.10,373.22h3.8V377.20h-3.8zM721.82,349.31h3.8V373.22h-3.8zM732.68,353.30h3.8V357.28h-3.8zM743.54,329.39h3.8V349.31h-3.8zM748.97,356.58h3.8V357.98h-3.8zM754.40,353.30h3.8V357.28h-3.8zM759.83,361.26h3.8V377.20h-3.8zM765.26,381.18h3.8V405.09h-3.8zM776.13,389.15h3.8V397.12h-3.8zM803.28,337.36h3.8V357.28h-3.8zM814.14,341.34h3.8V349.31h-3.8zM819.57,349.31h3.8V373.22h-3.8zM835.86,341.34h3.8V353.30h-3.8zM846.72,333.38h3.8V337.36h-3.8zM852.15,333.38h3.8V353.30h-3.8zM857.58,353.30h3.8V369.23h-3.8zM868.45,369.23h3.8V381.18h-3.8zM873.88,377.20h3.8V401.10h-3.8zM879.31,404.39h3.8V405.79h-3.8zM890.17,373.22h3.8V381.18h-3.8zM895.60,377.20h3.8V393.14h-3.8zM901.03,393.14h3.8V397.12h-3.8zM911.89,397.12h3.8V432.98h-3.8zM917.32,432.28h3.8V433.68h-3.8zM922.75,444.93h3.8V456.88h-3.8zM928.18,448.91h3.8V456.88h-3.8zM939.04,440.94h3.8V456.88h-3.8zM944.47,456.88h3.8V460.86h-3.8zM960.77,448.91h3.8V452.90h-3.8zM966.20,440.94h3.8V476.80h-3.8zM987.92,401.10h3.8V405.09h-3.8zM1004.21,353.30h3.8V357.28h-3.8zM1009.64,349.31h3.8V381.18h-3.8zM1020.50,353.30h3.8V369.23h-3.8zM1025.93,377.20h3.8V385.17h-3.8zM1031.36,389.15h3.8V397.12h-3.8zM1036.79,397.12h3.8V409.07h-3.8zM1042.22,405.09h3.8V413.06h-3.8zM1053.09,388.45h3.8V389.85h-3.8zM1080.24,337.36h3.8V341.34h-3.8zM1085.67,333.38h3.8V369.23h-3.8zM1096.53,365.25h3.8V381.18h-3.8zM1101.96,385.17h3.8V405.09h-3.8zM1107.39,401.10h3.8V421.02h-3.8zM1118.25,409.07h3.8V425.01h-3.8zM1129.11,401.10h3.8V417.04h-3.8zM1134.54,421.02h3.8V425.01h-3.8zM1139.98,428.99h3.8V440.94h-3.8zM1150.84,440.94h3.8V444.93h-3.8zM1161.70,401.10h3.8V413.06h-3.8zM1172.56,417.04h3.8V425.01h-3.8zM1183.42,361.26h3.8V373.22h-3.8zM1188.85,369.23h3.8V373.22h-3.8zM1194.28,377.20h3.8V393.14h-3.8zM1199.71,377.20h3.8V381.18h-3.8zM1205.14,373.22h3.8V381.18h-3.8zM1221.43,361.26h3.8V381.18h-3.8zM1226.87,385.17h3.8V413.06h-3.8zM1232.30,416.34h3.8V417.74h-3.8zM1248.59,369.23h3.8V385.17h-3.8zM1275.74,357.28h3.8V369.23h-3.8zM1286.60,365.25h3.8V369.23h-3.8zM1302.89,333.38h3.8V337.36h-3.8zM1308.32,341.34h3.8V345.33h-3.8zM1313.75,349.31h3.8V365.25h-3.8zM1335.48,301.50h3.8V305.49h-3.8zM1351.77,285.57h3.8V317.44h-3.8zM1362.63,313.46h3.8V321.42h-3.8zM1368.06,329.39h3.8V341.34h-3.8zM1373.49,345.33h3.8V353.30h-3.8zM1384.35,353.30h3.8V357.28h-3.8zM1400.64,269.63h3.8V273.62h-3.8zM1416.94,205.89h3.8V221.82h-3.8zM1422.37,221.82h3.8V245.73h-3.8zM1427.80,241.74h3.8V253.70h-3.8zM1433.23,233.78h3.8V241.74h-3.8zM1438.66,225.81h3.8V245.73h-3.8zM1444.09,253.00h3.8V254.40h-3.8zM1460.38,237.76h3.8V245.73h-3.8zM1471.24,217.84h3.8V405.09h-3.8zM1476.67,408.37h3.8V409.77h-3.8zM1482.10,405.09h3.8V417.04h-3.8z" fill="#0000cc"/>
<path d="M10.41,221.82h3.8V249.71h-3.8zM21.27,221.82h3.8V233.78h-3.8zM37.56,233.78h3.8V253.70h-3.8zM42.99,213.86h3.8V233.78h-3.8zM53.86,221.82h3.8V225.81h-3.8zM59.29,197.92h3.8V217.84h-3.8zM64.72,197.22h3.8V198.62h-3.8zM70.15,189.95h3.8V197.92h-3.8zM75.58,134.18h3.8V189.95h-3.8zM81.01,122.22h3.8V130.19h-3.8zM86.44,86.37h3.8V122.22h-3.8zM91.87,86.37h3.8V90.35h-3.8zM97.30,50.51h3.8V82.38h-3.8zM108.16,50.51h3.8V62.46h-3.8zM113.59,34.58h3.8V46.53h-3.8zM140.75,54.50h3.8V58.48h-3.8zM162.47,78.40h3.8V94.34h-3.8zM184.19,82.38h3.8V122.22h-3.8zM211.34,146.13h3.8V166.05h-3.8zM222.20,158.08h3.8V166.05h-3.8zM238.50,162.06h3.8V170.03h-3.8zM243.93,150.11h3.8V158.08h-3.8zM276.51,217.84h3.8V225.81h-3.8zM281.94,201.90h3.8V209.87h-3.8zM298.23,205.89h3.8V217.84h-3.8zM325.39,257.68h3.8V265.65h-3.8zM357.97,308.77h3.8V310.17h-3.8zM363.40,301.50h3.8V313.46h-3.8zM374.26,289.55h3.8V305.49h-3.8zM385.12,285.57h3.8V293.54h-3.8zM395.98,285.57h3.8V293.54h-3.8zM406.84,261.66h3.8V285.57h-3.8zM412.28,249.71h3.8V265.65h-3.8zM423.14,257.68h3.8V261.66h-3.8zM428.57,249.71h3.8V253.70h-3.8zM455.72,249.71h3.8V281.58h-3.8zM472.01,253.00h3.8V254.40h-3.8zM477.44,237.76h3.8V253.70h-3.8zM488.30,241.74h3.8V245.73h-3.8zM493.73,233.78h3.8V241.74h-3.8zM515.46,273.62h3.8V281.58h-3.8zM520.89,269.63h3.8V285.57h-3.8zM526.32,253.70h3.8V257.68h-3.8zM531.75,245.73h3.8V257.68h-3.8zM537.18,241.74h3.8V245.73h-3.8zM569.76,277.60h3.8V301.50h-3.8zM586.05,285.57h3.8V305.49h-3.8zM591.48,257.68h3.8V281.58h-3.8zM596.92,249.71h3.8V257.68h-3.8zM651.22,353.30h3.8V357.28h-3.8zM672.94,456.88h3.8V488.75h-3.8zM678.37,428.99h3.8V460.86h-3.8zM683.81,409.07h3.8V421.02h-3.8zM689.24,401.10h3.8V417.04h-3.8zM694.67,377.20h3.8V397.12h-3.8zM705.53,357.28h3.8V381.18h-3.8zM710.96,356.58h3.8V357.98h-3.8zM716.39,341.34h3.8V349.31h-3.8zM727.25,357.28h3.8V361.26h-3.8zM738.11,333.38h3.8V357.28h-3.8zM770.69,389.15h3.8V397.12h-3.8zM781.56,389.15h3.8V397.12h-3.8zM786.99,381.18h3.8V385.17h-3.8zM792.42,349.31h3.8V381.18h-3.8zM797.85,336.66h3.8V338.06h-3.8zM808.71,329.39h3.8V345.33h-3.8zM825.00,357.28h3.8V365.25h-3.8zM830.43,345.33h3.8V353.30h-3.8zM841.29,336.66h3.8V338.06h-3.8zM863.01,377.20h3.8V381.18h-3.8zM884.74,373.22h3.8V397.12h-3.8zM906.46,388.45h3.8V389.85h-3.8zM933.61,448.91h3.8V460.86h-3.8zM949.90,456.88h3.8V460.86h-3.8zM955.34,452.90h3.8V460.86h-3.8zM971.63,448.91h3.8V480.78h-3.8zM977.06,409.07h3.8V448.91h-3.8zM982.49,413.06h3.8V421.02h-3.8zM993.35,385.17h3.8V409.07h-3.8zM998.78,357.28h3.8V381.18h-3.8zM1015.07,357.28h3.8V369.23h-3.8zM1047.66,377.20h3.8V401.10h-3.8zM1058.52,373.22h3.8V377.20h-3.8zM1063.95,357.28h3.8V369.23h-3.8zM1069.38,357.28h3.8V361.26h-3.8zM1074.81,341.34h3.8V353.30h-3.8zM1091.10,364.55h3.8V365.95h-3.8zM1112.82,405.09h3.8V421.02h-3.8zM1123.68,412.36h3.8V413.76h-3.8zM1145.41,436.96h3.8V440.94h-3.8zM1156.27,421.02h3.8V444.93h-3.8zM1167.13,417.04h3.8V421.02h-3.8zM1177.99,369.23h3.8V409.07h-3.8zM1210.57,365.25h3.8V381.18h-3.8zM1216.00,361.26h3.8V365.25h-3.8zM1237.73,393.14h3.8V413.06h-3.8zM1243.16,381.18h3.8V393.14h-3.8zM1254.02,381.18h3.8V389.15h-3.8zM1259.45,369.23h3.8V381.18h-3.8zM1264.88,357.28h3.8V365.25h-3.8zM1270.31,349.31h3.8V357.28h-3.8zM1281.17,364.55h3.8V365.95h-3.8zM1292.03,360.56h3.8V361.96h-3.8zM1297.46,325.41h3.8V353.30h-3.8zM1319.19,353.30h3.8V365.25h-3.8zM1324.62,333.38h3.8V337.36h-3.8zM1330.05,305.49h3.8V333.38h-3.8zM1340.91,289.55h3.8V305.49h-3.8zM1346.34,289.55h3.8V293.54h-3.8zM1357.20,309.47h3.8V317.44h-3.8zM1378.92,349.31h3.8V361.26h-3.8zM1389.78,309.47h3.8V349.31h-3.8zM1395.21,269.63h3.8V313.46h-3.8zM1406.07,209.87h3.8V273.62h-3.8zM1411.51,201.90h3.8V209.87h-3.8zM1449.52,241.74h3.8V253.70h-3.8zM1454.95,237.76h3.8V245.73h-3.8zM1465.81,217.84h3.8V233.78h-3.8z" fill="#e00000"/>
<polyline points="327.3,706.5 332.7,708.0 338.1,708.0 343.6,708.0 349.0,707.5 354.4,708.6 359.9,708.7 365.3,708.3 370.7,708.7 376.2,708.4 381.6,708.4 387.0,709.0 392.5,709.4 397.9,709.2 403.3,710.2 408.7,710.2 414.2,711.0 419.6,711.1 425.0,711.8 430.5,712.5 435.9,712.4 441.3,713.1 446.8,713.6 452.2,713.6 457.6,713.4 463.1,714.0 468.5,714.2 473.9,714.2 479.3,714.5 484.8,714.6 490.2,715.1 495.6,715.4 501.1,715.3 506.5,715.6 511.9,715.8 517.4,715.7 522.8,716.0 528.2,717.0 533.6,718.3 539.1,719.0 544.5,719.2 549.9,719.4 555.4,719.9 560.8,720.1 566.2,720.2 571.7,720.8 577.1,720.9 582.5,721.3 588.0,721.5 593.4,722.8 598.8,723.0 604.2,722.5 609.7,722.7 615.1,722.9 620.5,723.3 626.0,723.4 631.4,723.4 636.8,723.0 642.3,722.7 647.7,722.5 653.1,722.4 658.6,722.3 664.0,721.4 669.4,720.5 674.8,720.6 680.3,720.0 685.7,719.2 691.1,719.2 696.6,719.1 702.0,719.2 707.4,719.3 712.9,719.2 718.3,719.2 723.7,719.4 729.1,719.6 734.6,719.8 740.0,719.5 745.4,719.5 750.9,720.1 756.3,720.3 761.7,720.3 767.2,719.9 772.6,720.0 778.0,720.2 783.5,720.5 788.9,720.5 794.3,720.4 799.7,719.7 805.2,719.7 810.6,719.9 816.0,719.7 821.5,719.7 826.9,719.7 832.3,719.8 837.8,719.9 843.2,720.1 848.6,720.0 854.1,719.8 859.5,719.7 864.9,719.6 870.3,719.4 875.8,719.2 881.2,718.5 886.6,718.5 892.1,718.7 897.5,718.6 902.9,718.8 908.4,718.8 913.8,718.6 919.2,718.5 924.7,718.4 930.1,719.0 935.5,718.3 940.9,718.2 946.4,717.9 951.8,718.1 957.2,718.0 962.7,718.2 968.1,718.3 973.5,719.4 979.0,719.3 984.4,719.8 989.8,720.8 995.2,721.7 1000.7,722.2 1006.1,722.5 1011.5,723.9 1017.0,724.6 1022.4,725.1 1027.8,725.5 1033.3,725.9 1038.7,726.1 1044.1,726.0 1049.6,726.4 1055.0,726.4 1060.4,726.2 1065.8,726.2 1071.3,726.3 1076.7,726.2 1082.1,725.8 1087.6,725.6 1093.0,725.9 1098.4,725.8 1103.9,724.8 1109.3,724.4 1114.7,724.1 1120.2,724.1 1125.6,724.8 1131.0,724.7 1136.4,724.5 1141.9,724.3 1147.3,724.5 1152.7,723.7 1158.2,723.0 1163.6,723.0 1169.0,722.9 1174.5,723.2 1179.9,723.0 1185.3,723.0 1190.8,723.1 1196.2,723.2 1201.6,723.4 1207.0,723.6 1212.5,723.0 1217.9,722.7 1223.3,722.8 1228.8,722.6 1234.2,722.3 1239.6,722.5 1245.1,722.5 1250.5,722.7 1255.9,722.1 1261.3,722.6 1266.8,721.7 1272.2,721.7 1277.6,721.6 1283.1,721.7 1288.5,721.9 1293.9,722.3 1299.4,721.9 1304.8,722.3 1310.2,722.8 1315.7,723.4 1321.1,724.0 1326.5,724.2 1331.9,724.5 1337.4,724.0 1342.8,723.5 1348.2,723.0 1353.7,722.4 1359.1,722.2 1364.5,722.3 1370.0,722.5 1375.4,722.1 1380.8,722.1 1386.3,722.3 1391.7,722.3 1397.1,718.9 1402.5,718.7 1408.0,717.1 1413.4,716.0 1418.8,715.8 1424.3,715.5 1429.7,716.4 1435.1,716.6 1440.6,716.9 1446.0,716.9 1451.4,716.8 1456.9,716.9 1462.3,717.1 1467.7,717.0 1473.1,715.0 1478.6,714.0 1484.0,713.7" fill="none" stroke="#2e8b57" stroke-width="1.15" stroke-linejoin="round"/>
<polyline points="110.1,691.0 115.5,697.2 120.9,697.5 126.4,698.6 131.8,699.2 137.2,702.5 142.6,704.3 148.1,705.3 153.5,706.5 158.9,706.5 164.4,706.6 169.8,707.0 175.2,708.9 180.7,709.0 186.1,711.4 191.5,711.8 197.0,713.2 202.4,711.8 207.8,711.7 213.2,712.3 218.7,712.1 224.1,713.3 229.5,713.7 235.0,714.0 240.4,713.7 245.8,713.6 251.3,713.5 256.7,712.0 262.1,712.3 267.5,709.5 273.0,709.5 278.4,710.4 283.8,710.2 289.3,710.7 294.7,710.7 300.1,710.0 305.6,711.0 311.0,714.1 316.4,717.2 321.9,716.4 327.3,716.4 332.7,713.6 338.1,712.8 343.6,711.5 349.0,709.5 354.4,709.8 359.9,708.4 365.3,707.7 370.7,707.1 376.2,709.1 381.6,709.2 387.0,709.5 392.5,709.2 397.9,707.8 403.3,708.4 408.7,708.8 414.2,708.7 419.6,707.4 425.0,706.6 430.5,708.8 435.9,708.8 441.3,712.3 446.8,714.2 452.2,715.4 457.6,716.8 463.1,718.6 468.5,720.6 473.9,722.8 479.3,723.9 484.8,725.1 490.2,726.5 495.6,726.3 501.1,726.4 506.5,728.2 511.9,728.2 517.4,728.3 522.8,728.2 528.2,729.6 533.6,731.1 539.1,731.8 544.5,732.3 549.9,732.3 555.4,732.7 560.8,733.4 566.2,734.2 571.7,734.0 577.1,733.8 582.5,733.5 588.0,733.6 593.4,734.1 598.8,733.2 604.2,731.7 609.7,732.5 615.1,732.8 620.5,733.5 626.0,733.2 631.4,733.3 636.8,732.0 642.3,730.6 647.7,727.0 653.1,726.1 658.6,722.2 664.0,717.2 669.4,712.7 674.8,710.7 680.3,707.5 685.7,703.2 691.1,701.2 696.6,699.8 702.0,698.5 707.4,698.0 712.9,699.6 718.3,698.6 723.7,697.2 729.1,697.1 734.6,697.9 740.0,696.9 745.4,697.0 750.9,698.5 756.3,702.1 761.7,702.5 767.2,705.3 772.6,710.1 778.0,714.5 783.5,716.7 788.9,720.0 794.3,724.2 799.7,724.2 805.2,725.6 810.6,727.0 816.0,728.0 821.5,727.9 826.9,728.0 832.3,729.3 837.8,729.1 843.2,729.3 848.6,729.8 854.1,730.5 859.5,730.0 864.9,729.7 870.3,729.7 875.8,730.0 881.2,728.2 886.6,728.2 892.1,728.6 897.5,728.5 902.9,728.9 908.4,731.0 913.8,730.5 919.2,730.0 924.7,729.3 930.1,729.7 935.5,728.3 940.9,728.2 946.4,727.6 951.8,727.2 957.2,727.2 962.7,727.0 968.1,726.3 973.5,726.5 979.0,725.7 984.4,724.1 989.8,724.1 995.2,722.5 1000.7,721.4 1006.1,719.1 1011.5,718.6 1017.0,718.5 1022.4,719.1 1027.8,719.6 1033.3,720.5 1038.7,720.7 1044.1,721.7 1049.6,721.8 1055.0,722.6 1060.4,722.2 1065.8,721.5 1071.3,721.4 1076.7,722.4 1082.1,721.3 1087.6,721.5 1093.0,723.6 1098.4,725.2 1103.9,723.6 1109.3,723.4 1114.7,724.6 1120.2,724.7 1125.6,725.0 1131.0,724.5 1136.4,723.8 1141.9,723.2 1147.3,723.1 1152.7,721.1 1158.2,719.0 1163.6,718.9 1169.0,719.4 1174.5,721.0 1179.9,720.5 1185.3,720.4 1190.8,721.5 1196.2,722.5 1201.6,722.5 1207.0,721.4 1212.5,722.9 1217.9,723.5 1223.3,724.7 1228.8,724.5 1234.2,723.4 1239.6,723.9 1245.1,724.3 1250.5,724.3 1255.9,722.5 1261.3,725.1 1266.8,724.2 1272.2,723.7 1277.6,723.3 1283.1,722.6 1288.5,723.8 1293.9,724.1 1299.4,722.9 1304.8,722.7 1310.2,722.2 1315.7,723.5 1321.1,725.5 1326.5,725.9 1331.9,724.1 1337.4,722.7 1342.8,722.2 1348.2,720.7 1353.7,719.2 1359.1,719.0 1364.5,721.4 1370.0,721.2 1375.4,723.0 1380.8,723.7 1386.3,724.1 1391.7,723.4 1397.1,712.5 1402.5,711.5 1408.0,707.0 1413.4,702.9 1418.8,702.6 1424.3,701.5 1429.7,700.7 1435.1,700.3 1440.6,701.9 1446.0,703.5 1451.4,704.7 1456.9,705.9 1462.3,707.7 1467.7,707.7 1473.1,701.0 1478.6,695.5 1484.0,693.8" fill="none" stroke="#1a1aff" stroke-width="1.15" stroke-linejoin="round"/>
<polyline points="55.8,685.6 61.2,696.9 66.6,696.6 72.0,698.5 77.5,693.8 82.9,702.3 88.3,702.3 93.8,701.2 99.2,697.9 104.6,694.9 110.1,696.3 115.5,697.5 120.9,698.3 126.4,698.7 131.8,704.6 137.2,702.7 142.6,706.4 148.1,709.4 153.5,715.1 158.9,718.2 164.4,716.8 169.8,716.6 175.2,719.4 180.7,719.2 186.1,718.1 191.5,720.8 197.0,720.1 202.4,714.1 207.8,708.2 213.2,706.4 218.7,707.4 224.1,709.9 229.5,707.9 235.0,708.7 240.4,709.4 245.8,706.4 251.3,706.9 256.7,709.9 262.1,716.5 267.5,712.5 273.0,711.5 278.4,710.8 283.8,712.5 289.3,712.7 294.7,712.0 300.1,713.7 305.6,715.1 311.0,718.2 316.4,718.0 321.9,720.2 327.3,721.4 332.7,716.4 338.1,713.1 343.6,710.2 349.0,706.9 354.4,705.8 359.9,701.6 365.3,697.1 370.7,696.2 376.2,698.1 381.6,697.0 387.0,702.7 392.5,705.3 397.9,705.4 403.3,709.9 408.7,711.8 414.2,715.7 419.6,717.8 425.0,717.0 430.5,719.5 435.9,720.5 441.3,722.0 446.8,723.1 452.2,725.3 457.6,723.8 463.1,725.4 468.5,725.5 473.9,727.9 479.3,730.9 484.8,730.7 490.2,732.6 495.6,730.7 501.1,729.8 506.5,731.0 511.9,732.5 517.4,731.3 522.8,731.0 528.2,731.3 533.6,731.3 539.1,732.8 544.5,732.1 549.9,734.0 555.4,735.7 560.8,735.8 566.2,735.8 571.7,736.8 577.1,736.7 582.5,735.7 588.0,735.9 593.4,735.3 598.8,734.3 604.2,729.3 609.7,729.3 615.1,729.9 620.5,731.1 626.0,729.6 631.4,729.9 636.8,728.2 642.3,725.3 647.7,718.7 653.1,717.8 658.6,715.0 664.0,705.0 669.4,695.6 674.8,690.3 680.3,685.3 685.7,676.4 691.1,674.2 696.6,674.2 702.0,678.3 707.4,678.2 712.9,684.2 718.3,692.3 723.7,698.8 729.1,704.0 734.6,710.6 740.0,717.4 745.4,719.7 750.9,722.8 756.3,725.9 761.7,726.8 767.2,726.4 772.6,728.0 778.0,730.1 783.5,729.5 788.9,729.4 794.3,731.1 799.7,728.7 805.2,728.5 810.6,728.2 816.0,729.3 821.5,729.4 826.9,728.0 832.3,728.5 837.8,728.6 843.2,729.2 848.6,728.5 854.1,732.4 859.5,731.5 864.9,731.1 870.3,730.2 875.8,730.7 881.2,728.3 886.6,727.8 892.1,728.5 897.5,727.8 902.9,729.3 908.4,729.7 913.8,729.5 919.2,728.9 924.7,728.4 930.1,728.7 935.5,728.4 940.9,728.6 946.4,726.6 951.8,726.6 957.2,725.2 962.7,724.4 968.1,723.1 973.5,724.1 979.0,723.0 984.4,719.6 989.8,719.9 995.2,716.5 1000.7,716.1 1006.1,711.6 1011.5,712.0 1017.0,712.5 1022.4,715.2 1027.8,715.1 1033.3,717.9 1038.7,721.9 1044.1,723.5 1049.6,727.0 1055.0,729.0 1060.4,732.8 1065.8,730.9 1071.3,730.3 1076.7,729.7 1082.1,727.5 1087.6,725.1 1093.0,725.3 1098.4,726.9 1103.9,720.2 1109.3,717.7 1114.7,716.4 1120.2,718.5 1125.6,719.7 1131.0,719.3 1136.4,720.1 1141.9,721.4 1147.3,720.8 1152.7,715.3 1158.2,717.8 1163.6,720.1 1169.0,722.4 1174.5,723.5 1179.9,721.2 1185.3,721.4 1190.8,722.9 1196.2,723.7 1201.6,724.1 1207.0,727.6 1212.5,727.9 1217.9,726.9 1223.3,727.0 1228.8,725.6 1234.2,725.6 1239.6,726.4 1245.1,725.6 1250.5,724.9 1255.9,720.8 1261.3,722.7 1266.8,720.6 1272.2,720.5 1277.6,719.6 1283.1,719.6 1288.5,722.1 1293.9,721.9 1299.4,720.2 1304.8,720.5 1310.2,723.6 1315.7,724.4 1321.1,730.5 1326.5,731.3 1331.9,728.6 1337.4,725.7 1342.8,722.4 1348.2,719.5 1353.7,718.2 1359.1,717.5 1364.5,719.2 1370.0,718.1 1375.4,715.6 1380.8,716.1 1386.3,719.7 1391.7,721.0 1397.1,702.7 1402.5,703.5 1408.0,695.8 1413.4,688.3 1418.8,686.0 1424.3,685.0 1429.7,685.9 1435.1,684.5 1440.6,684.2 1446.0,685.9 1451.4,706.8 1456.9,708.3 1462.3,719.7 1467.7,727.1 1473.1,716.0 1478.6,706.1 1484.0,701.6" fill="none" stroke="#202020" stroke-width="1.15" stroke-linejoin="round"/>
<polyline points="28.6,664.7 34.0,687.4 39.5,691.1 44.9,690.8 50.3,691.3 55.8,706.5 61.2,706.3 66.6,702.1 72.0,706.2 77.5,696.4 82.9,698.0 88.3,698.2 93.8,700.4 99.2,689.7 104.6,693.3 110.1,694.7 115.5,696.7 120.9,696.3 126.4,707.8 131.8,716.0 137.2,710.7 142.6,716.0 148.1,722.6 153.5,722.4 158.9,720.4 164.4,722.9 169.8,717.2 175.2,716.3 180.7,716.0 186.1,715.7 191.5,718.7 197.0,722.9 202.4,712.0 207.8,700.5 213.2,697.1 218.7,696.2 224.1,697.0 229.5,703.8 235.0,717.0 240.4,721.8 245.8,716.5 251.3,716.8 256.7,716.0 262.1,716.0 267.5,703.2 273.0,706.4 278.4,704.8 283.8,709.0 289.3,709.5 294.7,720.8 300.1,721.1 305.6,725.4 311.0,727.4 316.4,726.5 321.9,719.6 327.3,721.6 332.7,707.4 338.1,698.7 343.6,693.9 349.0,694.2 354.4,690.0 359.9,695.8 365.3,695.5 370.7,698.5 376.2,701.9 381.6,704.0 387.0,709.5 392.5,715.2 397.9,712.4 403.3,717.9 408.7,719.5 414.2,722.0 419.6,720.4 425.0,721.5 430.5,721.1 435.9,721.5 441.3,722.0 446.8,725.9 452.2,729.0 457.6,726.5 463.1,729.3 468.5,729.0 473.9,729.9 479.3,732.7 484.8,734.9 490.2,735.9 495.6,732.3 501.1,729.6 506.5,729.4 511.9,730.1 517.4,726.6 522.8,729.6 528.2,733.0 533.6,733.2 539.1,735.5 544.5,737.6 549.9,738.4 555.4,738.4 560.8,738.4 566.2,736.1 571.7,736.1 577.1,734.9 582.5,733.1 588.0,733.4 593.4,734.6 598.8,732.6 604.2,723.7 609.7,725.5 615.1,726.4 620.5,727.7 626.0,726.6 631.4,736.2 636.8,731.0 642.3,724.1 647.7,709.8 653.1,709.0 658.6,693.8 664.0,679.1 669.4,667.1 674.8,670.7 680.3,661.6 685.7,659.1 691.1,669.3 696.6,681.4 702.0,685.9 707.4,694.8 712.9,709.3 718.3,715.2 723.7,716.3 729.1,722.0 734.6,726.3 740.0,725.5 745.4,724.3 750.9,729.3 756.3,729.7 761.7,727.2 767.2,727.2 772.6,731.8 778.0,730.9 783.5,729.3 788.9,731.5 794.3,734.9 799.7,725.6 805.2,726.1 810.6,727.2 816.0,727.0 821.5,723.8 826.9,730.4 832.3,730.9 837.8,730.1 843.2,731.4 848.6,733.2 854.1,734.4 859.5,732.1 864.9,732.1 870.3,728.9 875.8,728.1 881.2,722.2 886.6,723.6 892.1,724.8 897.5,726.6 902.9,730.4 908.4,737.1 913.8,735.5 919.2,733.0 924.7,730.2 930.1,727.0 935.5,719.6 940.9,721.6 946.4,720.3 951.8,723.1 957.2,723.4 962.7,729.3 968.1,724.5 973.5,727.9 979.0,722.9 984.4,715.8 989.8,710.6 995.2,708.5 1000.7,704.4 1006.1,700.3 1011.5,708.2 1017.0,714.5 1022.4,721.9 1027.8,725.7 1033.3,735.5 1038.7,735.5 1044.1,732.4 1049.6,732.2 1055.0,732.2 1060.4,730.2 1065.8,726.3 1071.3,728.1 1076.7,727.1 1082.1,722.8 1087.6,720.1 1093.0,724.4 1098.4,725.7 1103.9,713.3 1109.3,712.7 1114.7,712.7 1120.2,712.5 1125.6,713.7 1131.0,725.3 1136.4,727.6 1141.9,730.1 1147.3,729.0 1152.7,717.0 1158.2,710.4 1163.6,712.5 1169.0,714.8 1174.5,718.0 1179.9,725.5 1185.3,732.4 1190.8,733.2 1196.2,732.6 1201.6,730.3 1207.0,729.6 1212.5,723.4 1217.9,720.6 1223.3,721.5 1228.8,720.8 1234.2,721.5 1239.6,729.5 1245.1,730.6 1250.5,728.4 1255.9,720.8 1261.3,723.8 1266.8,711.6 1272.2,710.3 1277.6,710.8 1283.1,718.3 1288.5,720.4 1293.9,732.1 1299.4,730.1 1304.8,730.2 1310.2,728.8 1315.7,728.4 1321.1,728.8 1326.5,732.6 1331.9,727.0 1337.4,722.7 1342.8,716.4 1348.2,710.3 1353.7,703.8 1359.1,708.0 1364.5,715.7 1370.0,719.7 1375.4,720.8 1380.8,728.4 1386.3,731.3 1391.7,726.3 1397.1,685.6 1402.5,686.2 1408.0,663.2 1413.4,645.2 1418.8,645.7 1424.3,684.4 1429.7,685.6 1435.1,705.8 1440.6,723.1 1446.0,726.1 1451.4,729.1 1456.9,731.1 1462.3,733.6 1467.7,731.1 1473.1,705.8 1478.6,683.0 1484.0,672.2" fill="none" stroke="#ff1010" stroke-width="1.15" stroke-linejoin="round"/>
<path d="M10.41,696.97h3.8V747.4h-3.8zM15.84,698.11h3.8V747.4h-3.8zM21.27,715.16h3.8V747.4h-3.8zM32.13,690.15h3.8V747.4h-3.8zM37.56,715.16h3.8V747.4h-3.8zM48.42,717.44h3.8V747.4h-3.8zM64.72,694.13h3.8V747.4h-3.8zM70.15,717.44h3.8V747.4h-3.8zM81.01,720.85h3.8V747.4h-3.8zM91.87,704.93h3.8V747.4h-3.8zM102.73,686.74h3.8V747.4h-3.8zM108.16,727.67h3.8V747.4h-3.8zM119.02,702.66h3.8V747.4h-3.8zM124.45,721.42h3.8V747.4h-3.8zM129.88,727.67h3.8V747.4h-3.8zM140.75,726.53h3.8V747.4h-3.8zM146.18,735.63h3.8V747.4h-3.8zM173.33,731.08h3.8V747.4h-3.8zM189.62,728.81h3.8V747.4h-3.8zM211.34,699.25h3.8V747.4h-3.8zM216.77,724.26h3.8V747.4h-3.8zM233.07,727.67h3.8V747.4h-3.8zM249.36,724.26h3.8V747.4h-3.8zM260.22,727.67h3.8V747.4h-3.8zM271.08,714.03h3.8V747.4h-3.8zM276.51,716.30h3.8V747.4h-3.8zM281.94,727.67h3.8V747.4h-3.8zM287.37,729.95h3.8V747.4h-3.8zM303.66,737.90h3.8V747.4h-3.8zM325.39,725.40h3.8V747.4h-3.8zM336.25,694.13h3.8V747.4h-3.8zM341.68,701.52h3.8V747.4h-3.8zM352.54,704.36h3.8V747.4h-3.8zM368.83,716.30h3.8V747.4h-3.8zM379.69,715.16h3.8V747.4h-3.8zM385.12,723.12h3.8V747.4h-3.8zM401.41,727.67h3.8V747.4h-3.8zM412.28,735.63h3.8V747.4h-3.8zM428.57,725.40h3.8V747.4h-3.8zM439.43,737.90h3.8V747.4h-3.8zM461.15,739.04h3.8V747.4h-3.8zM477.44,737.90h3.8V747.4h-3.8zM488.30,743.59h3.8V747.4h-3.8zM499.16,723.12h3.8V747.4h-3.8zM504.60,736.77h3.8V747.4h-3.8zM520.89,733.92h3.8V747.4h-3.8zM526.32,740.18h3.8V747.4h-3.8zM537.18,739.04h3.8V747.4h-3.8zM548.04,737.90h3.8V747.4h-3.8zM553.47,740.18h3.8V747.4h-3.8zM569.76,736.77h3.8V747.4h-3.8zM586.05,739.04h3.8V747.4h-3.8zM607.78,740.18h3.8V747.4h-3.8zM613.21,743.59h3.8V747.4h-3.8zM629.50,735.63h3.8V747.4h-3.8zM651.22,717.44h3.8V747.4h-3.8zM667.51,649.22h3.8V747.4h-3.8zM672.94,686.74h3.8V747.4h-3.8zM689.24,691.86h3.8V747.4h-3.8zM694.67,709.48h3.8V747.4h-3.8zM705.53,716.30h3.8V747.4h-3.8zM710.96,719.14h3.8V747.4h-3.8zM716.39,721.42h3.8V747.4h-3.8zM727.25,737.90h3.8V747.4h-3.8zM748.97,740.18h3.8V747.4h-3.8zM770.69,737.90h3.8V747.4h-3.8zM786.99,736.77h3.8V747.4h-3.8zM803.28,737.90h3.8V747.4h-3.8zM825.00,724.26h3.8V747.4h-3.8zM830.43,740.18h3.8V747.4h-3.8zM841.29,742.45h3.8V747.4h-3.8zM852.15,729.95h3.8V747.4h-3.8zM863.01,733.92h3.8V747.4h-3.8zM884.74,735.63h3.8V747.4h-3.8zM890.17,740.18h3.8V747.4h-3.8zM901.03,740.18h3.8V747.4h-3.8zM928.18,724.26h3.8V747.4h-3.8zM939.04,737.90h3.8V747.4h-3.8zM949.90,735.63h3.8V747.4h-3.8zM960.77,726.53h3.8V747.4h-3.8zM971.63,737.90h3.8V747.4h-3.8zM987.92,700.38h3.8V747.4h-3.8zM993.35,703.23h3.8V747.4h-3.8zM998.78,717.44h3.8V747.4h-3.8zM1009.64,729.95h3.8V747.4h-3.8zM1015.07,731.65h3.8V747.4h-3.8zM1020.50,740.18h3.8V747.4h-3.8zM1031.36,739.04h3.8V747.4h-3.8zM1047.66,739.04h3.8V747.4h-3.8zM1069.38,725.40h3.8V747.4h-3.8zM1074.81,733.92h3.8V747.4h-3.8zM1091.10,732.22h3.8V747.4h-3.8zM1107.39,711.75h3.8V747.4h-3.8zM1112.82,715.16h3.8V747.4h-3.8zM1118.25,731.65h3.8V747.4h-3.8zM1123.68,737.90h3.8V747.4h-3.8zM1139.98,727.67h3.8V747.4h-3.8zM1156.27,696.97h3.8V747.4h-3.8zM1161.70,733.92h3.8V747.4h-3.8zM1167.13,739.04h3.8V747.4h-3.8zM1172.56,742.45h3.8V747.4h-3.8zM1183.42,731.65h3.8V747.4h-3.8zM1188.85,737.90h3.8V747.4h-3.8zM1216.00,724.26h3.8V747.4h-3.8zM1221.43,740.18h3.8V747.4h-3.8zM1237.73,740.18h3.8V747.4h-3.8zM1259.45,729.95h3.8V747.4h-3.8zM1270.31,723.12h3.8V747.4h-3.8zM1275.74,731.65h3.8V747.4h-3.8zM1286.60,740.18h3.8V747.4h-3.8zM1302.89,732.22h3.8V747.4h-3.8zM1313.75,737.90h3.8V747.4h-3.8zM1319.19,740.18h3.8V747.4h-3.8zM1340.91,706.64h3.8V747.4h-3.8zM1346.34,709.48h3.8V747.4h-3.8zM1357.20,725.40h3.8V747.4h-3.8zM1362.63,737.90h3.8V747.4h-3.8zM1378.92,736.77h3.8V747.4h-3.8zM1384.35,740.18h3.8V747.4h-3.8zM1400.64,718.01h3.8V747.4h-3.8zM1411.51,650.36h3.8V747.4h-3.8zM1416.94,715.16h3.8V747.4h-3.8zM1422.37,716.30h3.8V747.4h-3.8zM1427.80,724.26h3.8V747.4h-3.8zM1438.66,736.77h3.8V747.4h-3.8zM1449.52,731.65h3.8V747.4h-3.8zM1454.95,733.92h3.8V747.4h-3.8zM1460.38,735.63h3.8V747.4h-3.8zM1476.67,617.38h3.8V747.4h-3.8zM1482.10,679.92h3.8V747.4h-3.8z" fill="#0000cc"/>
<path d="M4.98,576.45h3.8V747.4h-3.8zM26.70,636.71h3.8V747.4h-3.8zM42.99,696.97h3.8V747.4h-3.8zM53.86,712.89h3.8V747.4h-3.8zM59.29,689.01h3.8V747.4h-3.8zM75.58,668.55h3.8V747.4h-3.8zM86.44,690.15h3.8V747.4h-3.8zM97.30,664.00h3.8V747.4h-3.8zM113.59,700.38h3.8V747.4h-3.8zM135.31,701.52h3.8V747.4h-3.8zM151.61,720.85h3.8V747.4h-3.8zM157.04,717.44h3.8V747.4h-3.8zM162.47,714.03h3.8V747.4h-3.8zM167.90,698.11h3.8V747.4h-3.8zM178.76,719.14h3.8V747.4h-3.8zM184.19,716.30h3.8V747.4h-3.8zM195.05,719.14h3.8V747.4h-3.8zM200.48,676.51h3.8V747.4h-3.8zM205.91,661.73h3.8V747.4h-3.8zM222.20,723.12h3.8V747.4h-3.8zM227.63,710.62h3.8V747.4h-3.8zM238.50,723.12h3.8V747.4h-3.8zM243.93,698.11h3.8V747.4h-3.8zM254.79,706.64h3.8V747.4h-3.8zM265.65,659.45h3.8V747.4h-3.8zM292.80,716.30h3.8V747.4h-3.8zM298.23,715.16h3.8V747.4h-3.8zM309.09,737.90h3.8V747.4h-3.8zM314.52,725.40h3.8V747.4h-3.8zM319.95,681.62h3.8V747.4h-3.8zM330.82,666.84h3.8V747.4h-3.8zM347.11,683.33h3.8V747.4h-3.8zM357.97,695.84h3.8V747.4h-3.8zM363.40,692.42h3.8V747.4h-3.8zM374.26,700.38h3.8V747.4h-3.8zM390.55,720.85h3.8V747.4h-3.8zM395.98,702.66h3.8V747.4h-3.8zM406.84,723.12h3.8V747.4h-3.8zM417.71,712.89h3.8V747.4h-3.8zM423.14,708.34h3.8V747.4h-3.8zM434.00,725.40h3.8V747.4h-3.8zM444.86,732.22h3.8V747.4h-3.8zM450.29,724.26h3.8V747.4h-3.8zM455.72,712.89h3.8V747.4h-3.8zM466.58,736.77h3.8V747.4h-3.8zM472.01,736.77h3.8V747.4h-3.8zM482.87,724.26h3.8V747.4h-3.8zM493.73,719.14h3.8V747.4h-3.8zM510.03,727.67h3.8V747.4h-3.8zM515.46,726.53h3.8V747.4h-3.8zM531.75,737.90h3.8V747.4h-3.8zM542.61,736.77h3.8V747.4h-3.8zM558.90,737.90h3.8V747.4h-3.8zM564.33,727.67h3.8V747.4h-3.8zM575.19,732.22h3.8V747.4h-3.8zM580.62,731.08h3.8V747.4h-3.8zM591.48,733.92h3.8V747.4h-3.8zM596.92,726.53h3.8V747.4h-3.8zM602.35,687.88h3.8V747.4h-3.8zM618.64,740.18h3.8V747.4h-3.8zM624.07,721.42h3.8V747.4h-3.8zM634.93,714.03h3.8V747.4h-3.8zM640.36,709.48h3.8V747.4h-3.8zM645.79,668.55h3.8V747.4h-3.8zM656.65,659.45h3.8V747.4h-3.8zM662.08,640.69h3.8V747.4h-3.8zM678.37,671.96h3.8V747.4h-3.8zM683.81,646.94h3.8V747.4h-3.8zM700.10,709.48h3.8V747.4h-3.8zM721.82,715.16h3.8V747.4h-3.8zM732.68,737.90h3.8V747.4h-3.8zM738.11,715.16h3.8V747.4h-3.8zM743.54,715.16h3.8V747.4h-3.8zM754.40,740.18h3.8V747.4h-3.8zM759.83,725.40h3.8V747.4h-3.8zM765.26,715.16h3.8V747.4h-3.8zM776.13,735.63h3.8V747.4h-3.8zM781.56,732.22h3.8V747.4h-3.8zM792.42,732.22h3.8V747.4h-3.8zM797.85,691.29h3.8V747.4h-3.8zM808.71,737.90h3.8V747.4h-3.8zM814.14,735.63h3.8V747.4h-3.8zM819.57,716.30h3.8V747.4h-3.8zM835.86,733.92h3.8V747.4h-3.8zM846.72,725.40h3.8V747.4h-3.8zM857.58,728.81h3.8V747.4h-3.8zM868.45,726.53h3.8V747.4h-3.8zM873.88,721.42h3.8V747.4h-3.8zM879.31,700.38h3.8V747.4h-3.8zM895.60,735.63h3.8V747.4h-3.8zM906.46,733.92h3.8V747.4h-3.8zM911.89,727.67h3.8V747.4h-3.8zM917.32,727.67h3.8V747.4h-3.8zM922.75,721.42h3.8V747.4h-3.8zM933.61,696.97h3.8V747.4h-3.8zM944.47,720.85h3.8V747.4h-3.8zM955.34,725.40h3.8V747.4h-3.8zM966.20,714.03h3.8V747.4h-3.8zM977.06,710.62h3.8V747.4h-3.8zM982.49,690.15h3.8V747.4h-3.8zM1004.21,690.15h3.8V747.4h-3.8zM1025.93,736.77h3.8V747.4h-3.8zM1036.79,729.95h3.8V747.4h-3.8zM1042.22,716.30h3.8V747.4h-3.8zM1053.09,736.77h3.8V747.4h-3.8zM1058.52,728.81h3.8V747.4h-3.8zM1063.95,710.62h3.8V747.4h-3.8zM1080.24,715.16h3.8V747.4h-3.8zM1085.67,715.16h3.8V747.4h-3.8zM1096.53,732.22h3.8V747.4h-3.8zM1101.96,671.96h3.8V747.4h-3.8zM1129.11,729.95h3.8V747.4h-3.8zM1134.54,723.12h3.8V747.4h-3.8zM1145.41,726.53h3.8V747.4h-3.8zM1150.84,677.64h3.8V747.4h-3.8zM1177.99,715.16h3.8V747.4h-3.8zM1194.28,735.63h3.8V747.4h-3.8zM1199.71,731.08h3.8V747.4h-3.8zM1205.14,711.75h3.8V747.4h-3.8zM1210.57,700.38h3.8V747.4h-3.8zM1226.87,727.67h3.8V747.4h-3.8zM1232.30,715.16h3.8V747.4h-3.8zM1243.16,729.95h3.8V747.4h-3.8zM1248.59,728.81h3.8V747.4h-3.8zM1254.02,690.15h3.8V747.4h-3.8zM1264.88,679.35h3.8V747.4h-3.8zM1281.17,727.67h3.8V747.4h-3.8zM1292.03,737.90h3.8V747.4h-3.8zM1297.46,712.89h3.8V747.4h-3.8zM1308.32,720.85h3.8V747.4h-3.8zM1324.62,731.65h3.8V747.4h-3.8zM1330.05,704.36h3.8V747.4h-3.8zM1335.48,699.25h3.8V747.4h-3.8zM1351.77,699.25h3.8V747.4h-3.8zM1368.06,726.53h3.8V747.4h-3.8zM1373.49,715.16h3.8V747.4h-3.8zM1389.78,712.89h3.8V747.4h-3.8zM1395.21,523.01h3.8V747.4h-3.8zM1406.07,621.93h3.8V747.4h-3.8zM1433.23,723.12h3.8V747.4h-3.8zM1444.09,729.95h3.8V747.4h-3.8zM1465.81,724.26h3.8V747.4h-3.8zM1471.24,603.74h3.8V747.4h-3.8z" fill="#e00000"/>
<rect x="11.4" y="11.0" width="3.8" height="8.8" fill="#ff0000"/><g fill="#ff2020" font-size="17.0" text-anchor="middle"><text transform="translate(23.55,21.20) scale(0.793,1)">5</text></g><g fill="#202020" font-size="17.0" text-anchor="middle"><text transform="translate(41.35,21.20) scale(0.793,1)">1</text><text transform="translate(48.85,21.20) scale(0.793,1)">0</text></g><g fill="#2020ff" font-size="17.0" text-anchor="middle"><text transform="translate(65.75,21.20) scale(0.793,1)">2</text><text transform="translate(73.25,21.20) scale(0.793,1)">0</text></g><g fill="#3c9467" font-size="17.0" text-anchor="middle"><text transform="translate(90.95,21.20) scale(0.793,1)">6</text><text transform="translate(98.45,21.20) scale(0.793,1)">0</text></g>
<g fill="#ff00ff" font-size="17.0" text-anchor="middle"><text transform="translate(115.75,21.20) scale(0.793,1)">1</text><text transform="translate(123.25,21.20) scale(0.793,1)">2</text><text transform="translate(130.75,21.20) scale(0.793,1)">0</text></g>
<rect x="11.4" y="507.2" width="3.8" height="8.8" fill="#ff0000"/><g fill="#ff2020" font-size="17.0" text-anchor="middle"><text transform="translate(23.55,517.40) scale(0.793,1)">5</text></g><g fill="#202020" font-size="17.0" text-anchor="middle"><text transform="translate(41.35,517.40) scale(0.793,1)">1</text><text transform="translate(48.85,517.40) scale(0.793,1)">0</text></g><g fill="#2020ff" font-size="17.0" text-anchor="middle"><text transform="translate(65.75,517.40) scale(0.793,1)">2</text><text transform="translate(73.25,517.40) scale(0.793,1)">0</text></g><g fill="#3c9467" font-size="17.0" text-anchor="middle"><text transform="translate(90.95,517.40) scale(0.793,1)">6</text><text transform="translate(98.45,517.40) scale(0.793,1)">0</text></g>
<path d="M123.2,485.2H148.6M128.6,481L123.4,485.2L128.6,489.4" stroke="#e00000" stroke-width="1.4" fill="none"/>
<path transform="translate(148.60,476.60)" d="M3,1.2H7.8 M0.6,3.6H10.6 M5.6,3.8L1.4,8.2 M5.6,3.8L9.8,8.2 M5.4,9.4V12.6 M0.6,12.8H10.8 M12.4,0.4V14.6" stroke="#e00000" stroke-width="2.0" fill="none" stroke-linecap="butt"/>
<path transform="translate(164.80,476.60)" d="M2,1.3H13.2V8.2L11.6,10 M5.4,6V12.6 M0.6,12.8H14.8" stroke="#e00000" stroke-width="2.0" fill="none" stroke-linecap="butt"/>
<g fill="#e00000" font-size="18.0" font-weight="bold" text-anchor="middle"><text transform="translate(194.28,490.20) scale(0.874,1)">8</text><text transform="translate(203.03,490.20) scale(0.874,1)">6</text><text transform="translate(211.78,490.20) scale(0.874,1)">1</text><text transform="translate(220.53,490.20) scale(0.874,1)">.</text><text transform="translate(229.28,490.20) scale(0.874,1)">6</text><text transform="translate(238.03,490.20) scale(0.874,1)">5</text><text transform="translate(246.78,490.20) scale(0.874,1)">(</text><text transform="translate(255.53,490.20) scale(0.874,1)">0</text><text transform="translate(264.27,490.20) scale(0.874,1)">8</text><text transform="translate(273.02,490.20) scale(0.874,1)">:</text><text transform="translate(281.77,490.20) scale(0.874,1)">2</text><text transform="translate(290.52,490.20) scale(0.874,1)">2</text><text transform="translate(299.27,490.20) scale(0.874,1)">)</text></g>
<path d="M676.8,36.6H702.4M682.2,32.4L677,36.6L682.2,40.8" stroke="#0000cc" stroke-width="1.4" fill="none"/>
<path transform="translate(702.40,28.00)" d="M3,1.2H7.8 M0.6,3.6H10.6 M5.6,3.8L1.4,8.2 M5.6,3.8L9.8,8.2 M5.4,9.4V12.6 M0.6,12.8H10.8 M12.4,0.4V14.6" stroke="#0000cc" stroke-width="2.0" fill="none" stroke-linecap="butt"/>
<path transform="translate(718.60,28.00)" d="M0.8,1.6H9 M5,1.8L0.8,12.4 M5,4.6L9.2,12.4 M8.6,6.6H12.4 M12.6,0.4V14.6" stroke="#0000cc" stroke-width="2.0" fill="none" stroke-linecap="butt"/>
<g fill="#0000cc" font-size="18.0" font-weight="bold" text-anchor="middle"><text transform="translate(747.98,41.60) scale(0.874,1)">8</text><text transform="translate(756.73,41.60) scale(0.874,1)">5</text><text transform="translate(765.48,41.60) scale(0.874,1)">5</text><text transform="translate(774.23,41.60) scale(0.874,1)">.</text><text transform="translate(782.98,41.60) scale(0.874,1)">7</text><text transform="translate(791.73,41.60) scale(0.874,1)">5</text><text transform="translate(800.48,41.60) scale(0.874,1)">(</text><text transform="translate(809.23,41.60) scale(0.874,1)">0</text><text transform="translate(817.98,41.60) scale(0.874,1)">0</text><text transform="translate(826.73,41.60) scale(0.874,1)">:</text><text transform="translate(835.48,41.60) scale(0.874,1)">0</text><text transform="translate(844.23,41.60) scale(0.874,1)">4</text><text transform="translate(852.98,41.60) scale(0.874,1)">)</text></g>
<g fill="#202020" font-size="17.0" text-anchor="middle"><text transform="translate(16.75,534.40) scale(0.793,1)">5</text><text transform="translate(24.25,534.40) scale(0.793,1)">9</text></g>
<path transform="translate(28.20,521.80)" d="M2,1.4H12.6 M7.4,1.6L1.6,7 M7.4,1.6L13,7 M0.4,9H14.6 M7.5,9.2V14.4" stroke="#202020" stroke-width="1.3" fill="none" stroke-linecap="butt"/>
<g fill="#202020" font-size="17.0" text-anchor="middle"><text transform="translate(46.75,534.40) scale(0.793,1)">(</text><text transform="translate(54.25,534.40) scale(0.793,1)">5</text><text transform="translate(61.75,534.40) scale(0.793,1)">1</text><text transform="translate(69.25,534.40) scale(0.793,1)">.</text><text transform="translate(76.75,534.40) scale(0.793,1)">3</text><text transform="translate(84.25,534.40) scale(0.793,1)">0</text><text transform="translate(91.75,534.40) scale(0.508,1)">%</text><text transform="translate(99.25,534.40) scale(0.793,1)">)</text></g>
<rect x="1500.4" y="406.2" width="62.8" height="34.8" fill="#0000cc"/>
<path d="M1491.4,417L1498.4,410.2V423.8z" fill="#0000cc"/>
<g fill="#ffffff" font-size="17.0" text-anchor="middle"><text transform="translate(1506.35,421.20) scale(0.793,1)">8</text><text transform="translate(1513.85,421.20) scale(0.793,1)">5</text><text transform="translate(1521.35,421.20) scale(0.793,1)">6</text><text transform="translate(1528.85,421.20) scale(0.793,1)">.</text><text transform="translate(1536.35,421.20) scale(0.793,1)">7</text><text transform="translate(1543.85,421.20) scale(0.793,1)">5</text></g>
<g fill="#ffffff" font-size="17.0" text-anchor="middle"><text transform="translate(1506.35,438.60) scale(0.793,1)">(</text><text transform="translate(1513.85,438.60) scale(1.349,1)">-</text><text transform="translate(1521.35,438.60) scale(0.793,1)">0</text><text transform="translate(1528.85,438.60) scale(0.793,1)">.</text><text transform="translate(1536.35,438.60) scale(0.793,1)">3</text><text transform="translate(1543.85,438.60) scale(0.793,1)">3</text><text transform="translate(1551.35,438.60) scale(0.508,1)">%</text><text transform="translate(1558.85,438.60) scale(0.793,1)">)</text></g>
</svg></body></html>
